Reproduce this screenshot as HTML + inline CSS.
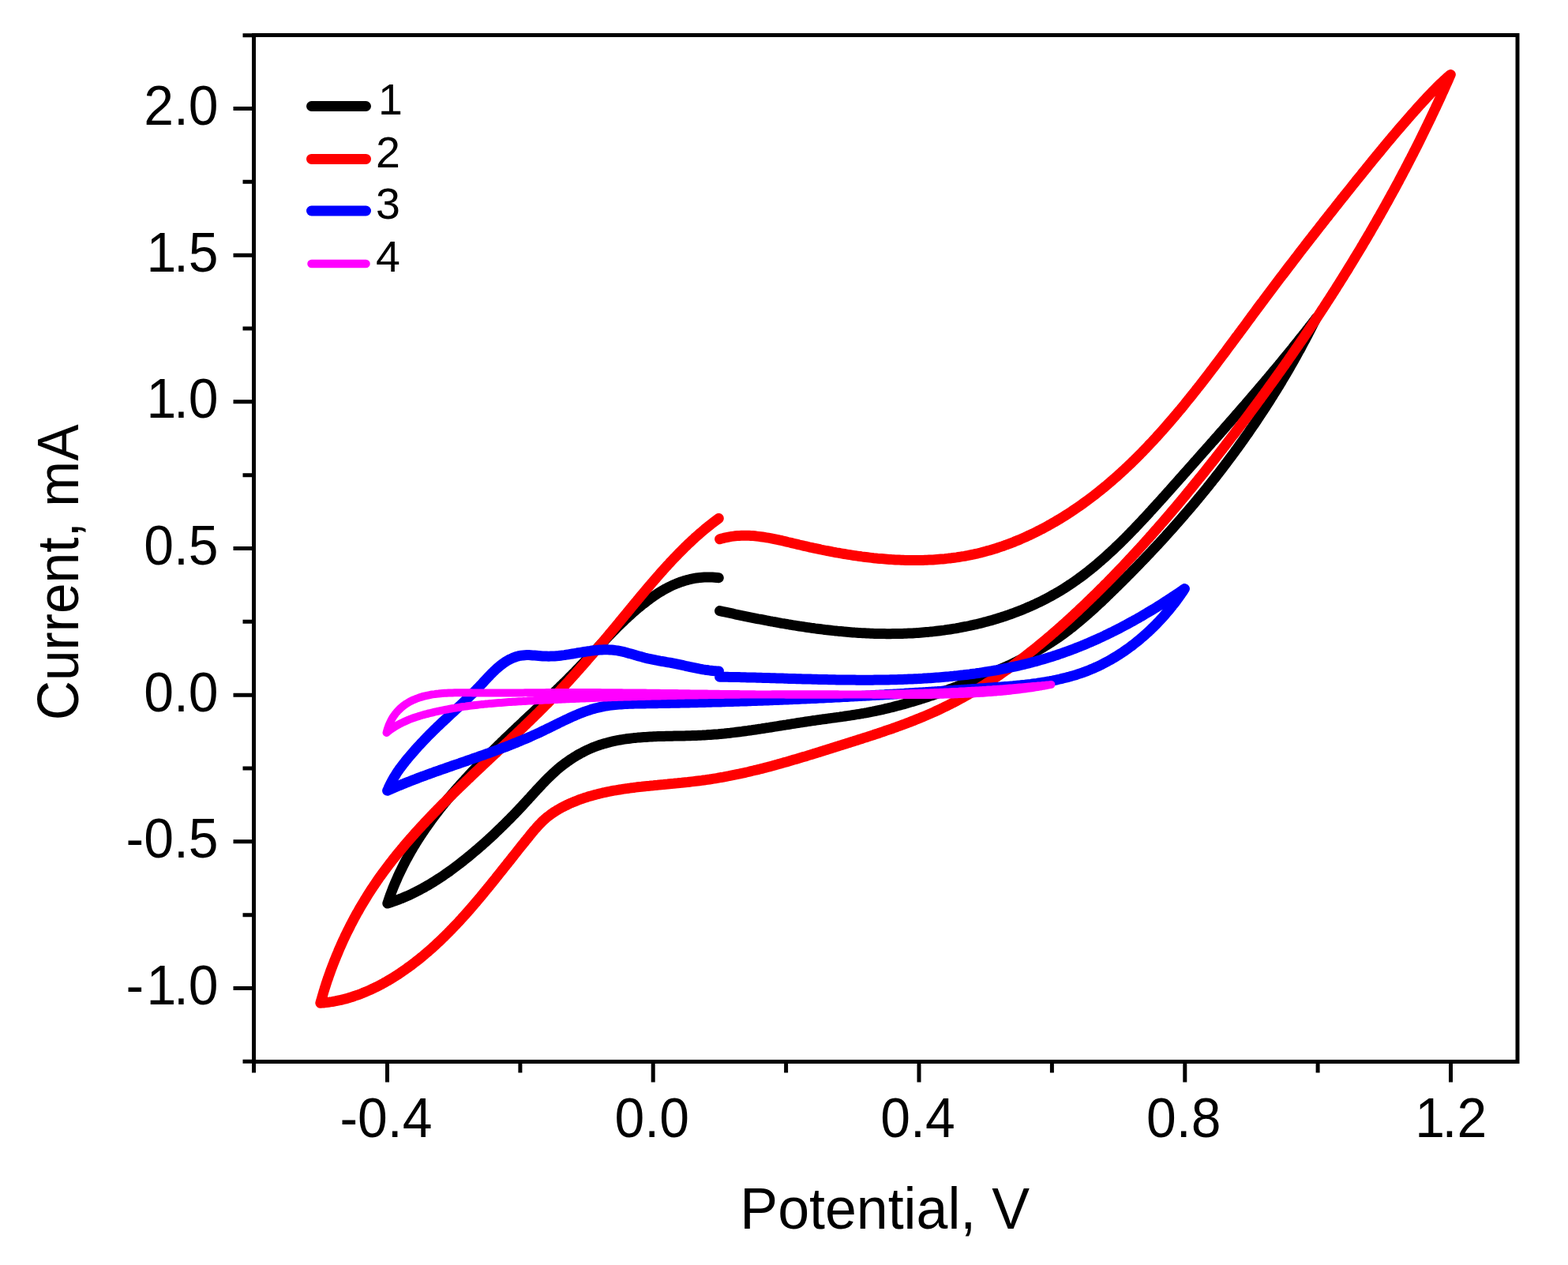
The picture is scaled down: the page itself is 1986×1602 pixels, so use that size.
<!DOCTYPE html>
<html><head><meta charset="utf-8"><title>Cyclic voltammograms</title>
<style>html,body{margin:0;padding:0;background:#fff;}body{width:1986px;height:1602px;overflow:hidden;}svg{display:block;}</style>
</head><body>
<svg width="1986" height="1602" viewBox="0 0 1986 1602">
<rect width="1986" height="1602" fill="#fff"/>
<path d="M911.5 773.6 L913.9 774.1 L916.3 774.7 L918.8 775.2 L921.2 775.7 L923.6 776.2 L926.0 776.7 L928.5 777.2 L930.9 777.8 L933.3 778.3 L935.8 778.8 L938.2 779.3 L940.7 779.8 L943.1 780.3 L945.5 780.8 L948.0 781.3 L950.4 781.8 L952.9 782.3 L955.4 782.8 L957.8 783.3 L960.3 783.8 L962.7 784.2 L965.2 784.7 L967.7 785.2 L970.1 785.7 L972.6 786.1 L975.1 786.6 L977.5 787.0 L980.0 787.5 L982.5 787.9 L985.0 788.4 L987.4 788.8 L989.9 789.3 L992.4 789.7 L994.9 790.1 L997.4 790.5 L999.8 791.0 L1002.3 791.4 L1004.8 791.8 L1007.3 792.2 L1009.8 792.6 L1012.3 793.0 L1014.8 793.3 L1017.3 793.7 L1019.8 794.1 L1022.3 794.5 L1024.8 794.8 L1027.3 795.2 L1029.8 795.5 L1032.3 795.9 L1034.8 796.2 L1037.3 796.5 L1039.8 796.8 L1042.3 797.1 L1044.8 797.5 L1047.3 797.7 L1049.8 798.0 L1052.3 798.3 L1054.8 798.6 L1057.4 798.9 L1059.9 799.1 L1062.4 799.4 L1064.9 799.6 L1067.4 799.8 L1069.9 800.1 L1072.4 800.3 L1074.9 800.5 L1077.5 800.7 L1080.0 800.9 L1082.5 801.1 L1085.0 801.2 L1087.5 801.4 L1090.1 801.6 L1092.6 801.7 L1095.1 801.8 L1097.6 802.0 L1100.1 802.1 L1102.7 802.2 L1105.2 802.3 L1107.7 802.4 L1110.2 802.4 L1112.7 802.5 L1115.3 802.6 L1117.8 802.6 L1120.3 802.6 L1122.8 802.7 L1125.3 802.7 L1127.9 802.7 L1130.4 802.6 L1132.9 802.6 L1135.4 802.6 L1137.9 802.5 L1140.5 802.5 L1143.0 802.4 L1145.5 802.3 L1148.0 802.2 L1150.5 802.1 L1153.1 802.0 L1155.6 801.9 L1158.1 801.7 L1160.6 801.6 L1163.1 801.4 L1165.6 801.2 L1168.2 801.0 L1170.7 800.8 L1173.2 800.6 L1175.7 800.4 L1178.2 800.1 L1180.7 799.9 L1183.2 799.6 L1185.7 799.3 L1188.2 799.0 L1190.7 798.7 L1193.2 798.4 L1195.7 798.1 L1198.2 797.7 L1200.7 797.3 L1203.2 797.0 L1205.7 796.6 L1208.2 796.2 L1210.6 795.8 L1213.1 795.3 L1215.6 794.9 L1218.1 794.4 L1220.5 793.9 L1223.0 793.5 L1225.5 793.0 L1227.9 792.5 L1230.4 791.9 L1232.8 791.4 L1235.3 790.8 L1237.7 790.3 L1240.1 789.7 L1242.6 789.1 L1245.0 788.5 L1247.4 787.8 L1249.8 787.2 L1252.2 786.5 L1254.6 785.9 L1257.0 785.2 L1259.4 784.5 L1261.8 783.8 L1264.2 783.0 L1266.6 782.3 L1269.0 781.5 L1271.3 780.8 L1273.7 780.0 L1276.1 779.2 L1278.4 778.3 L1280.8 777.5 L1283.1 776.7 L1285.4 775.8 L1287.8 774.9 L1290.1 774.0 L1292.4 773.1 L1294.7 772.2 L1297.0 771.2 L1299.3 770.3 L1301.6 769.3 L1303.9 768.3 L1306.1 767.3 L1308.4 766.3 L1310.6 765.3 L1312.9 764.2 L1315.1 763.2 L1317.4 762.1 L1319.6 761.0 L1321.8 759.9 L1324.0 758.7 L1326.2 757.6 L1328.4 756.4 L1330.6 755.2 L1332.7 754.0 L1334.9 752.8 L1337.1 751.6 L1339.2 750.3 L1341.3 749.1 L1343.5 747.8 L1345.6 746.5 L1347.7 745.2 L1349.8 743.9 L1351.9 742.5 L1353.9 741.1 L1356.0 739.8 L1358.1 738.4 L1360.1 737.0 L1362.2 735.5 L1364.2 734.1 L1366.2 732.6 L1368.2 731.2 L1370.2 729.7 L1372.2 728.2 L1374.2 726.7 L1376.2 725.1 L1378.2 723.6 L1380.1 722.0 L1382.1 720.5 L1384.0 718.9 L1386.0 717.3 L1387.9 715.7 L1389.8 714.1 L1391.7 712.4 L1393.6 710.8 L1395.5 709.1 L1397.4 707.5 L1399.3 705.8 L1401.2 704.1 L1403.0 702.4 L1404.9 700.7 L1406.8 699.0 L1408.6 697.3 L1410.5 695.6 L1412.3 693.8 L1414.1 692.1 L1415.9 690.3 L1417.8 688.6 L1419.6 686.8 L1421.4 685.0 L1423.2 683.3 L1425.0 681.5 L1426.8 679.7 L1428.5 677.9 L1430.3 676.1 L1432.1 674.2 L1433.9 672.4 L1435.6 670.6 L1437.4 668.8 L1439.1 666.9 L1440.9 665.1 L1442.6 663.3 L1444.4 661.4 L1446.1 659.6 L1447.8 657.7 L1449.6 655.9 L1451.3 654.0 L1453.0 652.2 L1454.7 650.3 L1456.4 648.4 L1458.1 646.6 L1459.8 644.7 L1461.5 642.8 L1463.2 641.0 L1464.9 639.1 L1466.6 637.2 L1468.3 635.4 L1470.0 633.5 L1471.7 631.6 L1473.4 629.7 L1475.1 627.9 L1476.7 626.0 L1478.4 624.1 L1480.1 622.2 L1481.8 620.4 L1483.4 618.5 L1485.1 616.6 L1486.8 614.7 L1488.4 612.9 L1490.1 611.0 L1491.8 609.1 L1493.4 607.2 L1495.1 605.3 L1496.8 603.5 L1498.4 601.6 L1500.1 599.7 L1501.8 597.8 L1503.4 596.0 L1505.1 594.1 L1506.7 592.2 L1508.4 590.4 L1510.1 588.5 L1511.7 586.6 L1513.4 584.7 L1515.1 582.9 L1516.7 581.0 L1518.4 579.1 L1520.0 577.3 L1521.7 575.4 L1523.3 573.5 L1525.0 571.6 L1526.7 569.8 L1528.3 567.9 L1530.0 566.0 L1531.6 564.2 L1533.3 562.3 L1534.9 560.4 L1536.6 558.6 L1538.3 556.7 L1539.9 554.8 L1541.6 553.0 L1543.2 551.1 L1544.9 549.2 L1546.5 547.3 L1548.2 545.5 L1549.8 543.6 L1551.5 541.7 L1553.1 539.8 L1554.7 538.0 L1556.4 536.1 L1558.0 534.2 L1559.7 532.3 L1561.3 530.5 L1563.0 528.6 L1564.6 526.7 L1566.2 524.8 L1567.9 523.0 L1569.5 521.1 L1571.2 519.2 L1572.8 517.3 L1574.4 515.4 L1576.1 513.5 L1577.7 511.7 L1579.3 509.8 L1581.0 507.9 L1582.6 506.0 L1584.2 504.1 L1585.9 502.2 L1587.5 500.3 L1589.1 498.4 L1590.7 496.5 L1592.4 494.6 L1594.0 492.7 L1595.6 490.8 L1597.2 488.9 L1598.8 487.0 L1600.5 485.1 L1602.1 483.2 L1603.7 481.3 L1605.3 479.4 L1606.9 477.5 L1608.5 475.5 L1610.1 473.6 L1611.7 471.7 L1613.3 469.8 L1614.9 467.9 L1616.6 465.9 L1618.2 464.0 L1619.8 462.1 L1621.4 460.1 L1623.0 458.2 L1624.5 456.3 L1626.1 454.3 L1627.7 452.4 L1629.3 450.5 L1630.9 448.5 L1632.5 446.6 L1634.1 444.6 L1635.7 442.7 L1637.3 440.7 L1638.8 438.7 L1640.4 436.8 L1642.0 434.8 L1643.6 432.9 L1645.1 430.9 L1646.7 428.9 L1648.3 426.9 L1649.9 425.0 L1651.4 423.0 L1653.0 421.0 L1654.6 419.0 L1656.1 417.0 L1657.7 415.0 L1659.2 413.0 L1660.8 411.0 L1662.4 409.0 L1663.9 407.0 L1665.5 405.0 L1667.0 403.0 L1667.0 403.0 L1665.9 405.3 L1664.8 407.5 L1663.6 409.7 L1662.5 412.0 L1661.4 414.2 L1660.2 416.5 L1659.1 418.7 L1657.9 420.9 L1656.8 423.1 L1655.6 425.4 L1654.4 427.6 L1653.3 429.8 L1652.1 432.0 L1650.9 434.2 L1649.7 436.4 L1648.5 438.6 L1647.4 440.9 L1646.2 443.1 L1644.9 445.2 L1643.7 447.4 L1642.5 449.6 L1641.3 451.8 L1640.1 454.0 L1638.9 456.2 L1637.6 458.4 L1636.4 460.5 L1635.1 462.7 L1633.9 464.9 L1632.6 467.1 L1631.4 469.2 L1630.1 471.4 L1628.9 473.5 L1627.6 475.7 L1626.3 477.8 L1625.0 480.0 L1623.7 482.1 L1622.5 484.3 L1621.2 486.4 L1619.9 488.6 L1618.6 490.7 L1617.3 492.8 L1615.9 495.0 L1614.6 497.1 L1613.3 499.2 L1612.0 501.3 L1610.6 503.4 L1609.3 505.5 L1608.0 507.7 L1606.6 509.8 L1605.3 511.9 L1603.9 514.0 L1602.6 516.1 L1601.2 518.2 L1599.8 520.3 L1598.5 522.3 L1597.1 524.4 L1595.7 526.5 L1594.3 528.6 L1592.9 530.7 L1591.6 532.8 L1590.2 534.8 L1588.8 536.9 L1587.3 539.0 L1585.9 541.0 L1584.5 543.1 L1583.1 545.1 L1581.7 547.2 L1580.3 549.2 L1578.8 551.3 L1577.4 553.3 L1575.9 555.4 L1574.5 557.4 L1573.0 559.5 L1571.6 561.5 L1570.1 563.5 L1568.7 565.5 L1567.2 567.6 L1565.7 569.6 L1564.3 571.6 L1562.8 573.6 L1561.3 575.6 L1559.8 577.6 L1558.3 579.7 L1556.8 581.7 L1555.3 583.7 L1553.8 585.7 L1552.3 587.6 L1550.8 589.6 L1549.3 591.6 L1547.8 593.6 L1546.2 595.6 L1544.7 597.6 L1543.2 599.6 L1541.6 601.5 L1540.1 603.5 L1538.6 605.5 L1537.0 607.4 L1535.5 609.4 L1533.9 611.4 L1532.3 613.3 L1530.8 615.3 L1529.2 617.2 L1527.6 619.2 L1526.1 621.1 L1524.5 623.0 L1522.9 625.0 L1521.3 626.9 L1519.7 628.9 L1518.1 630.8 L1516.5 632.7 L1514.9 634.6 L1513.3 636.6 L1511.7 638.5 L1510.1 640.4 L1508.5 642.3 L1506.8 644.2 L1505.2 646.1 L1503.6 648.0 L1501.9 649.9 L1500.3 651.8 L1498.7 653.7 L1497.0 655.6 L1495.4 657.5 L1493.7 659.4 L1492.1 661.3 L1490.4 663.1 L1488.8 665.0 L1487.1 666.9 L1485.4 668.8 L1483.8 670.6 L1482.1 672.5 L1480.4 674.4 L1478.7 676.2 L1477.0 678.1 L1475.4 680.0 L1473.7 681.8 L1472.0 683.7 L1470.3 685.5 L1468.6 687.4 L1466.9 689.2 L1465.2 691.0 L1463.5 692.9 L1461.7 694.7 L1460.0 696.5 L1458.3 698.4 L1456.6 700.2 L1454.9 702.0 L1453.1 703.8 L1451.4 705.7 L1449.7 707.5 L1447.9 709.3 L1446.2 711.1 L1444.5 712.9 L1442.7 714.7 L1441.0 716.5 L1439.2 718.3 L1437.5 720.1 L1435.7 721.9 L1433.9 723.7 L1432.2 725.5 L1430.4 727.3 L1428.6 729.0 L1426.9 730.8 L1425.1 732.6 L1423.3 734.4 L1421.6 736.1 L1419.8 737.9 L1418.0 739.7 L1416.2 741.5 L1414.4 743.2 L1412.6 745.0 L1410.8 746.7 L1409.0 748.5 L1407.2 750.2 L1405.4 752.0 L1403.6 753.7 L1401.8 755.5 L1400.0 757.2 L1398.2 758.9 L1396.4 760.7 L1394.6 762.4 L1392.7 764.1 L1390.9 765.8 L1389.1 767.5 L1387.2 769.2 L1385.4 770.9 L1383.5 772.6 L1381.7 774.3 L1379.8 775.9 L1377.9 777.6 L1376.0 779.2 L1374.1 780.9 L1372.3 782.5 L1370.4 784.1 L1368.4 785.8 L1366.5 787.4 L1364.6 788.9 L1362.7 790.5 L1360.7 792.1 L1358.8 793.7 L1356.8 795.2 L1354.9 796.7 L1352.9 798.2 L1350.9 799.7 L1348.9 801.2 L1346.9 802.7 L1344.9 804.2 L1342.9 805.6 L1340.8 807.1 L1338.8 808.5 L1336.7 809.9 L1334.6 811.3 L1332.6 812.6 L1330.5 814.0 L1328.4 815.3 L1326.3 816.7 L1324.1 818.0 L1322.0 819.3 L1319.9 820.6 L1317.7 821.8 L1315.6 823.1 L1313.4 824.3 L1311.2 825.6 L1309.0 826.8 L1306.8 828.0 L1304.6 829.2 L1302.4 830.4 L1300.2 831.5 L1298.0 832.7 L1295.8 833.8 L1293.5 835.0 L1291.3 836.1 L1289.0 837.2 L1286.8 838.3 L1284.5 839.4 L1282.2 840.5 L1280.0 841.6 L1277.7 842.6 L1275.4 843.7 L1273.1 844.7 L1270.8 845.8 L1268.5 846.8 L1266.2 847.8 L1263.9 848.8 L1261.6 849.8 L1259.3 850.8 L1257.0 851.8 L1254.7 852.8 L1252.3 853.7 L1250.0 854.7 L1247.7 855.7 L1245.3 856.6 L1243.0 857.6 L1240.7 858.5 L1238.3 859.4 L1236.0 860.3 L1233.6 861.3 L1231.3 862.2 L1229.0 863.1 L1226.6 864.0 L1224.3 864.9 L1221.9 865.8 L1219.6 866.7 L1217.2 867.5 L1214.9 868.4 L1212.5 869.3 L1210.2 870.2 L1207.9 871.0 L1205.5 871.9 L1203.2 872.7 L1200.8 873.6 L1198.5 874.4 L1196.1 875.3 L1193.8 876.1 L1191.4 876.9 L1189.1 877.7 L1186.7 878.6 L1184.3 879.4 L1182.0 880.2 L1179.6 880.9 L1177.3 881.7 L1174.9 882.5 L1172.5 883.3 L1170.2 884.0 L1167.8 884.8 L1165.4 885.5 L1163.1 886.3 L1160.7 887.0 L1158.3 887.7 L1155.9 888.4 L1153.6 889.1 L1151.2 889.8 L1148.8 890.5 L1146.4 891.2 L1144.0 891.9 L1141.6 892.5 L1139.2 893.2 L1136.8 893.8 L1134.4 894.4 L1132.0 895.1 L1129.6 895.7 L1127.2 896.3 L1124.7 896.9 L1122.3 897.4 L1119.9 898.0 L1117.5 898.6 L1115.0 899.1 L1112.6 899.6 L1110.1 900.1 L1107.7 900.7 L1105.2 901.2 L1102.8 901.6 L1100.3 902.1 L1097.9 902.6 L1095.4 903.0 L1092.9 903.5 L1090.4 903.9 L1088.0 904.3 L1085.5 904.7 L1083.0 905.1 L1080.5 905.5 L1078.0 905.9 L1075.5 906.3 L1073.0 906.6 L1070.5 907.0 L1068.0 907.4 L1065.5 907.7 L1063.0 908.1 L1060.5 908.4 L1058.0 908.8 L1055.5 909.1 L1053.0 909.4 L1050.5 909.8 L1048.0 910.1 L1045.5 910.5 L1043.0 910.8 L1040.5 911.1 L1038.0 911.5 L1035.5 911.8 L1033.1 912.2 L1030.6 912.5 L1028.1 912.9 L1025.6 913.3 L1023.1 913.6 L1020.7 914.0 L1018.2 914.4 L1015.7 914.8 L1013.3 915.1 L1010.8 915.5 L1008.3 915.9 L1005.9 916.3 L1003.4 916.7 L1001.0 917.1 L998.5 917.5 L996.1 917.9 L993.6 918.2 L991.2 918.6 L988.7 919.0 L986.3 919.4 L983.8 919.8 L981.4 920.2 L978.9 920.6 L976.5 921.0 L974.0 921.4 L971.6 921.7 L969.1 922.1 L966.7 922.5 L964.2 922.9 L961.8 923.2 L959.3 923.6 L956.9 924.0 L954.4 924.3 L952.0 924.7 L949.5 925.0 L947.0 925.4 L944.6 925.7 L942.1 926.0 L939.7 926.4 L937.2 926.7 L934.7 927.0 L932.3 927.3 L929.8 927.6 L927.3 927.9 L924.8 928.2 L922.4 928.4 L919.9 928.7 L917.4 929.0 L914.9 929.2 L912.4 929.4 L909.9 929.7 L907.4 929.9 L904.9 930.1 L902.4 930.3 L899.9 930.5 L897.3 930.6 L894.8 930.8 L892.3 930.9 L889.7 931.1 L887.2 931.2 L884.6 931.3 L882.1 931.4 L879.5 931.5 L877.0 931.6 L874.4 931.7 L871.9 931.7 L869.3 931.8 L866.7 931.9 L864.2 931.9 L861.6 932.0 L859.0 932.0 L856.4 932.1 L853.9 932.1 L851.3 932.2 L848.7 932.2 L846.1 932.3 L843.6 932.3 L841.0 932.4 L838.4 932.5 L835.9 932.6 L833.3 932.6 L830.7 932.7 L828.2 932.8 L825.6 933.0 L823.1 933.1 L820.5 933.2 L818.0 933.4 L815.5 933.5 L812.9 933.7 L810.4 933.9 L807.9 934.1 L805.4 934.4 L802.9 934.6 L800.4 934.9 L797.9 935.2 L795.4 935.5 L792.9 935.8 L790.5 936.2 L788.0 936.6 L785.6 937.0 L783.2 937.4 L780.7 937.9 L778.3 938.4 L775.9 938.9 L773.5 939.5 L771.1 940.1 L768.8 940.7 L766.4 941.4 L764.1 942.0 L761.7 942.8 L759.4 943.5 L757.1 944.3 L754.8 945.2 L752.6 946.0 L750.3 946.9 L748.1 947.9 L745.8 948.9 L743.6 949.9 L741.4 950.9 L739.3 952.0 L737.1 953.2 L734.9 954.3 L732.8 955.5 L730.7 956.7 L728.6 958.0 L726.5 959.3 L724.5 960.6 L722.4 961.9 L720.4 963.3 L718.4 964.7 L716.4 966.2 L714.4 967.6 L712.5 969.1 L710.5 970.7 L708.6 972.2 L706.7 973.8 L704.8 975.4 L703.0 977.1 L701.1 978.8 L699.3 980.5 L697.5 982.2 L695.7 983.9 L693.9 985.7 L692.2 987.4 L690.4 989.2 L688.7 991.0 L686.9 992.9 L685.2 994.7 L683.5 996.5 L681.8 998.4 L680.0 1000.2 L678.3 1002.1 L676.6 1004.0 L674.9 1005.8 L673.2 1007.7 L671.5 1009.6 L669.8 1011.4 L668.1 1013.3 L666.4 1015.1 L664.7 1017.0 L663.0 1018.8 L661.3 1020.7 L659.6 1022.5 L657.9 1024.3 L656.1 1026.2 L654.4 1028.0 L652.7 1029.8 L650.9 1031.6 L649.2 1033.4 L647.4 1035.2 L645.7 1037.0 L643.9 1038.7 L642.1 1040.5 L640.4 1042.3 L638.6 1044.0 L636.8 1045.8 L635.0 1047.5 L633.2 1049.3 L631.4 1051.0 L629.6 1052.7 L627.8 1054.5 L626.0 1056.2 L624.2 1057.9 L622.4 1059.6 L620.5 1061.3 L618.7 1063.0 L616.9 1064.6 L615.0 1066.3 L613.1 1068.0 L611.3 1069.6 L609.4 1071.3 L607.5 1072.9 L605.6 1074.6 L603.7 1076.2 L601.8 1077.8 L599.9 1079.4 L598.0 1081.0 L596.1 1082.6 L594.2 1084.2 L592.2 1085.8 L590.3 1087.4 L588.3 1088.9 L586.4 1090.5 L584.4 1092.0 L582.4 1093.6 L580.4 1095.1 L578.4 1096.6 L576.4 1098.1 L574.4 1099.6 L572.4 1101.1 L570.4 1102.6 L568.3 1104.1 L566.3 1105.5 L564.2 1106.9 L562.2 1108.4 L560.1 1109.8 L558.0 1111.2 L555.9 1112.5 L553.8 1113.9 L551.7 1115.2 L549.6 1116.6 L547.4 1117.9 L545.3 1119.2 L543.2 1120.5 L541.0 1121.7 L538.8 1123.0 L536.6 1124.2 L534.4 1125.4 L532.2 1126.6 L530.0 1127.7 L527.8 1128.9 L525.6 1130.0 L523.3 1131.1 L521.1 1132.2 L518.8 1133.3 L516.6 1134.3 L514.3 1135.3 L512.0 1136.3 L509.7 1137.3 L507.3 1138.2 L505.0 1139.1 L502.7 1140.0 L500.3 1140.9 L498.0 1141.7 L495.6 1142.5 L493.2 1143.3 L490.8 1144.1 L490.8 1144.1 L491.6 1141.7 L492.4 1139.2 L493.3 1136.8 L494.1 1134.4 L495.0 1132.0 L495.9 1129.7 L496.8 1127.3 L497.7 1124.9 L498.6 1122.6 L499.6 1120.2 L500.6 1117.9 L501.6 1115.6 L502.6 1113.3 L503.6 1111.0 L504.6 1108.7 L505.7 1106.4 L506.8 1104.1 L507.9 1101.9 L509.0 1099.6 L510.1 1097.4 L511.2 1095.1 L512.4 1092.9 L513.5 1090.7 L514.7 1088.5 L515.9 1086.3 L517.1 1084.1 L518.3 1081.9 L519.6 1079.7 L520.8 1077.5 L522.1 1075.4 L523.3 1073.2 L524.6 1071.1 L525.9 1069.0 L527.2 1066.8 L528.6 1064.7 L529.9 1062.6 L531.3 1060.5 L532.6 1058.4 L534.0 1056.3 L535.4 1054.2 L536.8 1052.2 L538.2 1050.1 L539.6 1048.0 L541.1 1046.0 L542.5 1044.0 L544.0 1041.9 L545.4 1039.9 L546.9 1037.9 L548.4 1035.9 L549.9 1033.9 L551.4 1031.9 L552.9 1029.9 L554.5 1027.9 L556.0 1025.9 L557.5 1023.9 L559.1 1022.0 L560.7 1020.0 L562.2 1018.0 L563.8 1016.1 L565.4 1014.2 L567.0 1012.2 L568.6 1010.3 L570.3 1008.4 L571.9 1006.4 L573.5 1004.5 L575.2 1002.6 L576.8 1000.7 L578.5 998.8 L580.1 996.9 L581.8 995.1 L583.5 993.2 L585.2 991.3 L586.9 989.4 L588.6 987.6 L590.3 985.7 L592.0 983.9 L593.7 982.0 L595.4 980.2 L597.2 978.3 L598.9 976.5 L600.6 974.7 L602.4 972.8 L604.1 971.0 L605.9 969.2 L607.6 967.4 L609.4 965.6 L611.2 963.8 L612.9 962.0 L614.7 960.2 L616.5 958.4 L618.3 956.6 L620.1 954.8 L621.9 953.0 L623.7 951.3 L625.5 949.5 L627.3 947.7 L629.1 946.0 L630.9 944.2 L632.7 942.4 L634.5 940.7 L636.3 938.9 L638.1 937.2 L639.9 935.4 L641.8 933.7 L643.6 931.9 L645.4 930.2 L647.2 928.5 L649.0 926.7 L650.9 925.0 L652.7 923.3 L654.5 921.5 L656.3 919.8 L658.2 918.1 L660.0 916.4 L661.8 914.7 L663.6 912.9 L665.5 911.2 L667.3 909.5 L669.1 907.8 L670.9 906.1 L672.8 904.4 L674.6 902.7 L676.4 901.0 L678.2 899.3 L680.0 897.6 L681.9 895.9 L683.7 894.1 L685.5 892.4 L687.3 890.7 L689.1 889.0 L690.9 887.3 L692.7 885.6 L694.5 883.9 L696.3 882.2 L698.1 880.4 L699.9 878.7 L701.7 877.0 L703.5 875.3 L705.3 873.5 L707.1 871.8 L708.9 870.0 L710.7 868.3 L712.5 866.5 L714.3 864.8 L716.1 863.0 L717.8 861.3 L719.6 859.5 L721.4 857.7 L723.2 855.9 L724.9 854.1 L726.7 852.3 L728.5 850.5 L730.2 848.7 L732.0 846.9 L733.8 845.1 L735.5 843.2 L737.3 841.4 L739.0 839.5 L740.8 837.7 L742.5 835.8 L744.3 834.0 L746.0 832.1 L747.7 830.2 L749.5 828.4 L751.2 826.5 L753.0 824.6 L754.7 822.8 L756.5 820.9 L758.2 819.0 L760.0 817.1 L761.7 815.3 L763.5 813.4 L765.3 811.6 L767.0 809.7 L768.8 807.8 L770.5 806.0 L772.3 804.2 L774.1 802.3 L775.9 800.5 L777.7 798.7 L779.5 796.8 L781.2 795.0 L783.0 793.2 L784.9 791.5 L786.7 789.7 L788.5 787.9 L790.3 786.2 L792.2 784.4 L794.0 782.7 L795.8 781.0 L797.7 779.3 L799.6 777.6 L801.4 775.9 L803.3 774.3 L805.2 772.6 L807.1 771.0 L809.0 769.4 L811.0 767.8 L812.9 766.2 L814.8 764.7 L816.8 763.2 L818.8 761.7 L820.7 760.2 L822.7 758.7 L824.7 757.3 L826.7 755.8 L828.8 754.4 L830.8 753.1 L832.9 751.7 L834.9 750.4 L837.0 749.2 L839.1 747.9 L841.2 746.7 L843.3 745.5 L845.5 744.4 L847.6 743.3 L849.8 742.2 L852.0 741.2 L854.2 740.2 L856.4 739.3 L858.7 738.4 L860.9 737.5 L863.2 736.7 L865.5 736.0 L867.8 735.2 L870.1 734.6 L872.5 734.0 L874.9 733.4 L877.3 732.9 L879.7 732.4 L882.1 732.0 L884.6 731.7 L887.0 731.4 L889.5 731.2 L892.0 731.0 L894.6 730.9 L897.1 730.9 L899.7 730.9 L902.3 731.0 L905.0 731.2 L907.6 731.4 L910.3 731.7" fill="none" stroke="#000000" stroke-width="13.0" stroke-linecap="round" stroke-linejoin="round"/>
<path d="M911.6 682.8 L914.1 682.1 L916.6 681.4 L919.0 680.8 L921.5 680.3 L924.0 679.8 L926.5 679.4 L928.9 679.1 L931.4 678.8 L933.9 678.6 L936.4 678.4 L938.8 678.3 L941.3 678.2 L943.8 678.2 L946.2 678.3 L948.7 678.3 L951.2 678.5 L953.6 678.6 L956.1 678.8 L958.5 679.1 L961.0 679.4 L963.5 679.7 L965.9 680.0 L968.4 680.4 L970.8 680.8 L973.3 681.2 L975.7 681.6 L978.2 682.1 L980.6 682.6 L983.1 683.1 L985.6 683.6 L988.0 684.2 L990.5 684.7 L992.9 685.3 L995.4 685.9 L997.8 686.5 L1000.3 687.0 L1002.7 687.6 L1005.2 688.2 L1007.6 688.8 L1010.1 689.4 L1012.6 690.0 L1015.0 690.5 L1017.5 691.1 L1019.9 691.7 L1022.4 692.2 L1024.8 692.8 L1027.3 693.3 L1029.8 693.9 L1032.2 694.4 L1034.7 694.9 L1037.2 695.4 L1039.6 696.0 L1042.1 696.5 L1044.5 697.0 L1047.0 697.5 L1049.5 697.9 L1051.9 698.4 L1054.4 698.9 L1056.9 699.3 L1059.3 699.8 L1061.8 700.2 L1064.3 700.7 L1066.8 701.1 L1069.2 701.5 L1071.7 701.9 L1074.2 702.3 L1076.7 702.7 L1079.1 703.1 L1081.6 703.5 L1084.1 703.8 L1086.6 704.2 L1089.1 704.5 L1091.5 704.9 L1094.0 705.2 L1096.5 705.5 L1099.0 705.8 L1101.5 706.1 L1104.0 706.4 L1106.5 706.7 L1109.0 706.9 L1111.5 707.2 L1114.0 707.4 L1116.4 707.6 L1118.9 707.8 L1121.4 708.0 L1123.9 708.2 L1126.5 708.4 L1129.0 708.6 L1131.5 708.7 L1134.0 708.9 L1136.5 709.0 L1139.0 709.1 L1141.5 709.2 L1144.0 709.3 L1146.5 709.4 L1149.0 709.4 L1151.5 709.5 L1154.0 709.5 L1156.6 709.5 L1159.1 709.5 L1161.6 709.5 L1164.1 709.5 L1166.6 709.4 L1169.1 709.4 L1171.6 709.3 L1174.1 709.2 L1176.6 709.1 L1179.1 709.0 L1181.6 708.9 L1184.1 708.7 L1186.6 708.5 L1189.1 708.3 L1191.6 708.1 L1194.1 707.9 L1196.6 707.7 L1199.1 707.4 L1201.6 707.1 L1204.1 706.9 L1206.6 706.5 L1209.1 706.2 L1211.6 705.9 L1214.0 705.5 L1216.5 705.1 L1219.0 704.7 L1221.5 704.3 L1223.9 703.8 L1226.4 703.4 L1228.9 702.9 L1231.3 702.4 L1233.8 701.9 L1236.2 701.3 L1238.7 700.8 L1241.1 700.2 L1243.5 699.6 L1246.0 698.9 L1248.4 698.3 L1250.8 697.6 L1253.3 696.9 L1255.7 696.2 L1258.1 695.5 L1260.5 694.8 L1262.9 694.0 L1265.3 693.2 L1267.7 692.4 L1270.1 691.6 L1272.4 690.7 L1274.8 689.9 L1277.2 689.0 L1279.6 688.1 L1281.9 687.2 L1284.3 686.3 L1286.6 685.3 L1288.9 684.4 L1291.3 683.4 L1293.6 682.4 L1295.9 681.4 L1298.2 680.4 L1300.5 679.3 L1302.8 678.2 L1305.1 677.2 L1307.4 676.1 L1309.7 675.0 L1312.0 673.9 L1314.2 672.7 L1316.5 671.6 L1318.7 670.4 L1321.0 669.3 L1323.2 668.1 L1325.4 666.9 L1327.6 665.7 L1329.8 664.4 L1332.0 663.2 L1334.2 661.9 L1336.4 660.7 L1338.5 659.4 L1340.7 658.1 L1342.9 656.8 L1345.0 655.5 L1347.1 654.2 L1349.2 652.9 L1351.4 651.5 L1353.5 650.2 L1355.6 648.8 L1357.7 647.4 L1359.7 646.0 L1361.8 644.6 L1363.9 643.2 L1365.9 641.8 L1368.0 640.4 L1370.0 639.0 L1372.0 637.5 L1374.0 636.0 L1376.0 634.6 L1378.0 633.1 L1380.0 631.6 L1382.0 630.1 L1384.0 628.6 L1386.0 627.1 L1387.9 625.6 L1389.9 624.0 L1391.8 622.5 L1393.8 620.9 L1395.7 619.4 L1397.6 617.8 L1399.6 616.2 L1401.5 614.6 L1403.4 613.0 L1405.3 611.4 L1407.1 609.8 L1409.0 608.2 L1410.9 606.5 L1412.8 604.9 L1414.6 603.3 L1416.5 601.6 L1418.3 599.9 L1420.2 598.3 L1422.0 596.6 L1423.8 594.9 L1425.6 593.2 L1427.5 591.5 L1429.3 589.8 L1431.1 588.1 L1432.9 586.3 L1434.6 584.6 L1436.4 582.9 L1438.2 581.1 L1440.0 579.3 L1441.7 577.6 L1443.5 575.8 L1445.3 574.0 L1447.0 572.3 L1448.7 570.5 L1450.5 568.7 L1452.2 566.9 L1453.9 565.1 L1455.6 563.2 L1457.4 561.4 L1459.1 559.6 L1460.8 557.8 L1462.5 555.9 L1464.2 554.1 L1465.9 552.2 L1467.5 550.4 L1469.2 548.5 L1470.9 546.6 L1472.6 544.8 L1474.2 542.9 L1475.9 541.0 L1477.5 539.1 L1479.2 537.2 L1480.8 535.3 L1482.5 533.4 L1484.1 531.5 L1485.7 529.6 L1487.4 527.7 L1489.0 525.8 L1490.6 523.9 L1492.2 521.9 L1493.8 520.0 L1495.5 518.1 L1497.1 516.1 L1498.7 514.2 L1500.3 512.2 L1501.8 510.3 L1503.4 508.3 L1505.0 506.3 L1506.6 504.4 L1508.2 502.4 L1509.8 500.4 L1511.3 498.5 L1512.9 496.5 L1514.5 494.5 L1516.0 492.5 L1517.6 490.5 L1519.2 488.6 L1520.7 486.6 L1522.3 484.6 L1523.8 482.6 L1525.4 480.6 L1526.9 478.6 L1528.5 476.6 L1530.0 474.6 L1531.5 472.6 L1533.1 470.5 L1534.6 468.5 L1536.2 466.5 L1537.7 464.5 L1539.2 462.5 L1540.7 460.5 L1542.3 458.4 L1543.8 456.4 L1545.3 454.4 L1546.8 452.4 L1548.3 450.4 L1549.9 448.3 L1551.4 446.3 L1552.9 444.3 L1554.4 442.2 L1555.9 440.2 L1557.4 438.2 L1558.9 436.2 L1560.4 434.1 L1561.9 432.1 L1563.4 430.1 L1564.9 428.0 L1566.4 426.0 L1568.0 424.0 L1569.5 421.9 L1571.0 419.9 L1572.5 417.9 L1574.0 415.8 L1575.5 413.8 L1577.0 411.8 L1578.5 409.8 L1580.0 407.7 L1581.5 405.7 L1583.0 403.7 L1584.5 401.6 L1585.9 399.6 L1587.4 397.6 L1588.9 395.6 L1590.4 393.6 L1591.9 391.5 L1593.4 389.5 L1594.9 387.5 L1596.4 385.5 L1597.9 383.5 L1599.5 381.5 L1601.0 379.4 L1602.5 377.4 L1604.0 375.4 L1605.5 373.4 L1607.0 371.4 L1608.5 369.4 L1610.0 367.4 L1611.5 365.4 L1613.0 363.4 L1614.5 361.4 L1616.0 359.4 L1617.5 357.4 L1619.0 355.4 L1620.5 353.4 L1622.0 351.4 L1623.5 349.5 L1625.1 347.5 L1626.6 345.5 L1628.1 343.5 L1629.6 341.5 L1631.1 339.5 L1632.6 337.5 L1634.1 335.6 L1635.7 333.6 L1637.2 331.6 L1638.7 329.6 L1640.2 327.6 L1641.7 325.7 L1643.3 323.7 L1644.8 321.7 L1646.3 319.7 L1647.8 317.7 L1649.3 315.8 L1650.9 313.8 L1652.4 311.8 L1653.9 309.9 L1655.4 307.9 L1657.0 305.9 L1658.5 303.9 L1660.0 302.0 L1661.6 300.0 L1663.1 298.0 L1664.6 296.1 L1666.2 294.1 L1667.7 292.1 L1669.2 290.2 L1670.8 288.2 L1672.3 286.2 L1673.9 284.3 L1675.4 282.3 L1676.9 280.4 L1678.5 278.4 L1680.0 276.4 L1681.6 274.5 L1683.1 272.5 L1684.7 270.5 L1686.2 268.6 L1687.8 266.6 L1689.3 264.7 L1690.9 262.7 L1692.4 260.7 L1694.0 258.8 L1695.5 256.8 L1697.1 254.9 L1698.6 252.9 L1700.2 250.9 L1701.8 249.0 L1703.3 247.0 L1704.9 245.1 L1706.4 243.1 L1708.0 241.2 L1709.6 239.2 L1711.2 237.2 L1712.7 235.3 L1714.3 233.3 L1715.9 231.4 L1717.4 229.4 L1719.0 227.4 L1720.6 225.5 L1722.2 223.5 L1723.8 221.6 L1725.3 219.6 L1726.9 217.6 L1728.5 215.7 L1730.1 213.7 L1731.7 211.8 L1733.3 209.8 L1734.9 207.8 L1736.5 205.9 L1738.0 203.9 L1739.6 202.0 L1741.2 200.0 L1742.8 198.1 L1744.4 196.1 L1746.0 194.2 L1747.7 192.2 L1749.3 190.3 L1750.9 188.3 L1752.5 186.4 L1754.1 184.4 L1755.7 182.5 L1757.3 180.5 L1758.9 178.6 L1760.6 176.7 L1762.2 174.7 L1763.8 172.8 L1765.4 170.9 L1767.1 169.0 L1768.7 167.0 L1770.3 165.1 L1772.0 163.2 L1773.6 161.3 L1775.3 159.4 L1776.9 157.5 L1778.6 155.6 L1780.2 153.7 L1781.9 151.8 L1783.5 149.9 L1785.2 148.0 L1786.8 146.1 L1788.5 144.2 L1790.2 142.3 L1791.8 140.5 L1793.5 138.6 L1795.2 136.7 L1796.8 134.9 L1798.5 133.0 L1800.2 131.2 L1801.9 129.3 L1803.6 127.5 L1805.3 125.7 L1807.0 123.8 L1808.7 122.0 L1810.4 120.2 L1812.1 118.4 L1813.8 116.6 L1815.6 114.8 L1817.3 113.1 L1819.1 111.3 L1820.8 109.5 L1822.6 107.8 L1824.4 106.1 L1826.2 104.4 L1828.0 102.7 L1829.8 101.0 L1831.7 99.3 L1833.5 97.7 L1835.4 96.0 L1837.3 94.4 L1837.3 94.4 L1836.3 96.7 L1835.3 99.0 L1834.3 101.3 L1833.3 103.5 L1832.3 105.8 L1831.2 108.1 L1830.2 110.4 L1829.2 112.7 L1828.2 115.0 L1827.1 117.2 L1826.1 119.5 L1825.1 121.8 L1824.0 124.1 L1823.0 126.3 L1821.9 128.6 L1820.9 130.9 L1819.8 133.1 L1818.8 135.4 L1817.7 137.7 L1816.6 139.9 L1815.6 142.2 L1814.5 144.4 L1813.4 146.7 L1812.4 149.0 L1811.3 151.2 L1810.2 153.5 L1809.1 155.7 L1808.0 158.0 L1806.9 160.2 L1805.8 162.5 L1804.7 164.7 L1803.6 167.0 L1802.5 169.2 L1801.4 171.4 L1800.3 173.7 L1799.2 175.9 L1798.1 178.2 L1797.0 180.4 L1795.9 182.6 L1794.7 184.9 L1793.6 187.1 L1792.5 189.3 L1791.3 191.6 L1790.2 193.8 L1789.1 196.0 L1787.9 198.2 L1786.8 200.5 L1785.6 202.7 L1784.5 204.9 L1783.3 207.1 L1782.2 209.3 L1781.0 211.6 L1779.9 213.8 L1778.7 216.0 L1777.5 218.2 L1776.4 220.4 L1775.2 222.6 L1774.0 224.8 L1772.8 227.0 L1771.7 229.3 L1770.5 231.5 L1769.3 233.7 L1768.1 235.9 L1766.9 238.1 L1765.7 240.3 L1764.5 242.5 L1763.3 244.7 L1762.1 246.8 L1760.9 249.0 L1759.7 251.2 L1758.5 253.4 L1757.3 255.6 L1756.0 257.8 L1754.8 260.0 L1753.6 262.2 L1752.4 264.4 L1751.2 266.5 L1749.9 268.7 L1748.7 270.9 L1747.5 273.1 L1746.2 275.2 L1745.0 277.4 L1743.7 279.6 L1742.5 281.8 L1741.2 283.9 L1740.0 286.1 L1738.7 288.3 L1737.5 290.4 L1736.2 292.6 L1735.0 294.8 L1733.7 296.9 L1732.4 299.1 L1731.2 301.2 L1729.9 303.4 L1728.6 305.6 L1727.3 307.7 L1726.1 309.9 L1724.8 312.0 L1723.5 314.2 L1722.2 316.3 L1720.9 318.5 L1719.6 320.6 L1718.3 322.8 L1717.0 324.9 L1715.7 327.0 L1714.4 329.2 L1713.1 331.3 L1711.8 333.5 L1710.5 335.6 L1709.2 337.7 L1707.9 339.9 L1706.6 342.0 L1705.3 344.1 L1703.9 346.3 L1702.6 348.4 L1701.3 350.5 L1700.0 352.6 L1698.6 354.8 L1697.3 356.9 L1696.0 359.0 L1694.6 361.1 L1693.3 363.2 L1692.0 365.4 L1690.6 367.5 L1689.3 369.6 L1687.9 371.7 L1686.6 373.8 L1685.2 375.9 L1683.9 378.0 L1682.5 380.1 L1681.1 382.2 L1679.8 384.3 L1678.4 386.4 L1677.1 388.5 L1675.7 390.6 L1674.3 392.7 L1672.9 394.8 L1671.6 396.9 L1670.2 399.0 L1668.8 401.1 L1667.4 403.2 L1666.0 405.3 L1664.7 407.4 L1663.3 409.5 L1661.9 411.5 L1660.5 413.6 L1659.1 415.7 L1657.7 417.8 L1656.3 419.9 L1654.9 422.0 L1653.5 424.0 L1652.1 426.1 L1650.7 428.2 L1649.3 430.2 L1647.9 432.3 L1646.4 434.4 L1645.0 436.5 L1643.6 438.5 L1642.2 440.6 L1640.8 442.6 L1639.3 444.7 L1637.9 446.8 L1636.5 448.8 L1635.1 450.9 L1633.6 452.9 L1632.2 455.0 L1630.8 457.1 L1629.3 459.1 L1627.9 461.2 L1626.5 463.2 L1625.0 465.3 L1623.6 467.3 L1622.1 469.3 L1620.7 471.4 L1619.2 473.4 L1617.8 475.5 L1616.3 477.5 L1614.9 479.5 L1613.4 481.6 L1611.9 483.6 L1610.5 485.7 L1609.0 487.7 L1607.5 489.7 L1606.1 491.7 L1604.6 493.8 L1603.1 495.8 L1601.7 497.8 L1600.2 499.8 L1598.7 501.9 L1597.2 503.9 L1595.8 505.9 L1594.3 507.9 L1592.8 509.9 L1591.3 512.0 L1589.8 514.0 L1588.3 516.0 L1586.8 518.0 L1585.3 520.0 L1583.8 522.0 L1582.4 524.0 L1580.9 526.0 L1579.4 528.0 L1577.9 530.0 L1576.4 532.0 L1574.8 534.0 L1573.3 536.0 L1571.8 538.0 L1570.3 540.0 L1568.8 542.0 L1567.3 544.0 L1565.8 546.0 L1564.3 548.0 L1562.8 550.0 L1561.2 551.9 L1559.7 553.9 L1558.2 555.9 L1556.7 557.9 L1555.1 559.9 L1553.6 561.9 L1552.1 563.8 L1550.6 565.8 L1549.0 567.8 L1547.5 569.8 L1546.0 571.7 L1544.4 573.7 L1542.9 575.7 L1541.3 577.6 L1539.8 579.6 L1538.3 581.6 L1536.7 583.5 L1535.2 585.5 L1533.6 587.4 L1532.1 589.4 L1530.5 591.4 L1529.0 593.3 L1527.4 595.3 L1525.9 597.2 L1524.3 599.2 L1522.7 601.1 L1521.2 603.1 L1519.6 605.0 L1518.0 606.9 L1516.5 608.9 L1514.9 610.8 L1513.3 612.8 L1511.7 614.7 L1510.2 616.6 L1508.6 618.6 L1507.0 620.5 L1505.4 622.4 L1503.8 624.4 L1502.3 626.3 L1500.7 628.2 L1499.1 630.1 L1497.5 632.0 L1495.9 634.0 L1494.3 635.9 L1492.7 637.8 L1491.1 639.7 L1489.5 641.6 L1487.9 643.5 L1486.3 645.4 L1484.6 647.3 L1483.0 649.2 L1481.4 651.1 L1479.8 653.0 L1478.2 654.9 L1476.5 656.8 L1474.9 658.7 L1473.3 660.6 L1471.6 662.5 L1470.0 664.3 L1468.4 666.2 L1466.7 668.1 L1465.1 670.0 L1463.4 671.8 L1461.8 673.7 L1460.1 675.6 L1458.5 677.5 L1456.8 679.3 L1455.2 681.2 L1453.5 683.0 L1451.8 684.9 L1450.2 686.7 L1448.5 688.6 L1446.8 690.5 L1445.2 692.3 L1443.5 694.1 L1441.8 696.0 L1440.1 697.8 L1438.4 699.7 L1436.7 701.5 L1435.0 703.3 L1433.3 705.2 L1431.6 707.0 L1429.9 708.8 L1428.2 710.6 L1426.5 712.5 L1424.8 714.3 L1423.1 716.1 L1421.4 717.9 L1419.7 719.7 L1417.9 721.5 L1416.2 723.3 L1414.5 725.1 L1412.7 726.9 L1411.0 728.7 L1409.3 730.5 L1407.5 732.3 L1405.8 734.1 L1404.0 735.9 L1402.3 737.7 L1400.5 739.4 L1398.7 741.2 L1397.0 743.0 L1395.2 744.8 L1393.4 746.5 L1391.7 748.3 L1389.9 750.0 L1388.1 751.8 L1386.3 753.6 L1384.5 755.3 L1382.7 757.1 L1380.9 758.8 L1379.1 760.6 L1377.3 762.3 L1375.5 764.0 L1373.7 765.8 L1371.9 767.5 L1370.1 769.2 L1368.2 770.9 L1366.4 772.7 L1364.6 774.4 L1362.7 776.1 L1360.9 777.8 L1359.1 779.5 L1357.2 781.2 L1355.4 782.9 L1353.5 784.6 L1351.6 786.3 L1349.8 788.0 L1347.9 789.7 L1346.0 791.3 L1344.2 793.0 L1342.3 794.7 L1340.4 796.3 L1338.5 798.0 L1336.6 799.6 L1334.7 801.3 L1332.8 802.9 L1330.9 804.6 L1329.0 806.2 L1327.1 807.8 L1325.2 809.4 L1323.3 811.0 L1321.3 812.6 L1319.4 814.2 L1317.5 815.8 L1315.5 817.4 L1313.6 819.0 L1311.6 820.6 L1309.7 822.2 L1307.7 823.7 L1305.8 825.3 L1303.8 826.8 L1301.8 828.4 L1299.9 829.9 L1297.9 831.5 L1295.9 833.0 L1293.9 834.5 L1291.9 836.0 L1289.9 837.5 L1287.9 839.0 L1285.9 840.5 L1283.9 842.0 L1281.8 843.5 L1279.8 844.9 L1277.8 846.4 L1275.8 847.8 L1273.7 849.3 L1271.7 850.7 L1269.6 852.1 L1267.6 853.6 L1265.5 855.0 L1263.4 856.4 L1261.4 857.8 L1259.3 859.1 L1257.2 860.5 L1255.1 861.9 L1253.0 863.3 L1250.9 864.6 L1248.8 865.9 L1246.7 867.3 L1244.6 868.6 L1242.5 869.9 L1240.4 871.2 L1238.2 872.5 L1236.1 873.8 L1234.0 875.1 L1231.8 876.3 L1229.7 877.6 L1227.5 878.8 L1225.4 880.1 L1223.2 881.3 L1221.0 882.5 L1218.8 883.7 L1216.7 884.9 L1214.5 886.1 L1212.3 887.3 L1210.1 888.5 L1207.9 889.6 L1205.6 890.8 L1203.4 891.9 L1201.2 893.0 L1199.0 894.1 L1196.7 895.2 L1194.5 896.3 L1192.2 897.4 L1190.0 898.5 L1187.7 899.5 L1185.5 900.5 L1183.2 901.6 L1180.9 902.6 L1178.6 903.6 L1176.3 904.6 L1174.0 905.6 L1171.7 906.6 L1169.4 907.6 L1167.1 908.5 L1164.8 909.5 L1162.5 910.4 L1160.2 911.3 L1157.9 912.3 L1155.5 913.2 L1153.2 914.1 L1150.9 915.0 L1148.5 915.9 L1146.2 916.8 L1143.8 917.6 L1141.5 918.5 L1139.1 919.4 L1136.7 920.2 L1134.4 921.1 L1132.0 921.9 L1129.6 922.8 L1127.3 923.6 L1124.9 924.4 L1122.5 925.2 L1120.2 926.0 L1117.8 926.9 L1115.4 927.7 L1113.0 928.5 L1110.6 929.3 L1108.2 930.0 L1105.9 930.8 L1103.5 931.6 L1101.1 932.4 L1098.7 933.2 L1096.3 933.9 L1093.9 934.7 L1091.5 935.5 L1089.1 936.2 L1086.7 937.0 L1084.3 937.8 L1081.9 938.5 L1079.5 939.3 L1077.1 940.0 L1074.8 940.8 L1072.4 941.5 L1070.0 942.3 L1067.6 943.0 L1065.2 943.8 L1062.8 944.5 L1060.4 945.3 L1058.0 946.0 L1055.6 946.8 L1053.3 947.5 L1050.9 948.3 L1048.5 949.0 L1046.1 949.8 L1043.7 950.5 L1041.3 951.3 L1039.0 952.0 L1036.6 952.8 L1034.2 953.5 L1031.8 954.2 L1029.4 955.0 L1027.0 955.7 L1024.7 956.4 L1022.3 957.2 L1019.9 957.9 L1017.5 958.6 L1015.1 959.3 L1012.7 960.0 L1010.4 960.7 L1008.0 961.4 L1005.6 962.1 L1003.2 962.8 L1000.8 963.5 L998.4 964.2 L996.0 964.9 L993.6 965.6 L991.2 966.3 L988.9 966.9 L986.5 967.6 L984.1 968.3 L981.7 968.9 L979.3 969.6 L976.9 970.2 L974.5 970.9 L972.1 971.5 L969.7 972.1 L967.2 972.7 L964.8 973.4 L962.4 974.0 L960.0 974.6 L957.6 975.2 L955.2 975.7 L952.7 976.3 L950.3 976.9 L947.9 977.5 L945.5 978.0 L943.0 978.6 L940.6 979.1 L938.2 979.6 L935.7 980.2 L933.3 980.7 L930.8 981.2 L928.4 981.7 L925.9 982.2 L923.5 982.7 L921.0 983.1 L918.5 983.6 L916.1 984.1 L913.6 984.5 L911.1 984.9 L908.6 985.4 L906.2 985.8 L903.7 986.2 L901.2 986.6 L898.7 987.0 L896.2 987.3 L893.7 987.7 L891.2 988.0 L888.7 988.4 L886.2 988.7 L883.6 989.0 L881.1 989.3 L878.6 989.6 L876.1 989.9 L873.5 990.2 L871.0 990.5 L868.4 990.7 L865.9 991.0 L863.4 991.3 L860.8 991.5 L858.3 991.8 L855.7 992.0 L853.2 992.3 L850.6 992.5 L848.1 992.7 L845.5 993.0 L843.0 993.2 L840.4 993.5 L837.9 993.7 L835.3 993.9 L832.8 994.2 L830.2 994.4 L827.7 994.7 L825.2 994.9 L822.6 995.2 L820.1 995.4 L817.5 995.7 L815.0 996.0 L812.5 996.3 L810.0 996.5 L807.4 996.8 L804.9 997.1 L802.4 997.5 L799.9 997.8 L797.4 998.1 L794.9 998.5 L792.4 998.8 L789.9 999.2 L787.4 999.6 L784.9 1000.0 L782.5 1000.4 L780.0 1000.8 L777.5 1001.2 L775.1 1001.7 L772.6 1002.2 L770.2 1002.6 L767.8 1003.1 L765.3 1003.7 L762.9 1004.2 L760.5 1004.8 L758.1 1005.4 L755.7 1006.0 L753.3 1006.6 L751.0 1007.2 L748.6 1007.9 L746.2 1008.6 L743.9 1009.3 L741.6 1010.1 L739.2 1010.8 L736.9 1011.6 L734.6 1012.4 L732.3 1013.3 L730.1 1014.2 L727.8 1015.1 L725.5 1016.0 L723.3 1016.9 L721.1 1017.9 L718.9 1019.0 L716.7 1020.0 L714.5 1021.1 L712.3 1022.2 L710.2 1023.4 L708.0 1024.6 L705.9 1025.8 L703.9 1027.1 L701.8 1028.4 L699.8 1029.7 L697.8 1031.1 L695.9 1032.6 L693.9 1034.1 L692.1 1035.6 L690.2 1037.2 L688.4 1038.8 L686.6 1040.5 L684.9 1042.3 L683.2 1044.0 L681.5 1045.8 L679.8 1047.7 L678.2 1049.6 L676.5 1051.4 L674.9 1053.4 L673.3 1055.3 L671.7 1057.2 L670.2 1059.2 L668.6 1061.1 L667.0 1063.1 L665.4 1065.0 L663.9 1067.0 L662.3 1068.9 L660.7 1070.9 L659.2 1072.8 L657.6 1074.8 L656.0 1076.8 L654.5 1078.7 L652.9 1080.7 L651.3 1082.7 L649.8 1084.6 L648.2 1086.6 L646.7 1088.6 L645.1 1090.6 L643.5 1092.5 L642.0 1094.5 L640.4 1096.5 L638.8 1098.4 L637.3 1100.4 L635.7 1102.4 L634.2 1104.3 L632.6 1106.3 L631.0 1108.3 L629.4 1110.2 L627.9 1112.2 L626.3 1114.2 L624.7 1116.1 L623.1 1118.1 L621.6 1120.0 L620.0 1122.0 L618.4 1123.9 L616.8 1125.9 L615.2 1127.8 L613.6 1129.8 L612.0 1131.7 L610.4 1133.6 L608.8 1135.6 L607.2 1137.5 L605.6 1139.4 L604.0 1141.3 L602.4 1143.2 L600.7 1145.1 L599.1 1147.0 L597.5 1148.9 L595.8 1150.8 L594.2 1152.7 L592.5 1154.6 L590.9 1156.4 L589.2 1158.3 L587.5 1160.2 L585.8 1162.0 L584.2 1163.9 L582.5 1165.7 L580.8 1167.6 L579.1 1169.4 L577.4 1171.2 L575.6 1173.0 L573.9 1174.8 L572.2 1176.6 L570.4 1178.4 L568.7 1180.2 L566.9 1182.0 L565.2 1183.7 L563.4 1185.5 L561.6 1187.2 L559.8 1189.0 L558.0 1190.7 L556.2 1192.4 L554.4 1194.1 L552.6 1195.8 L550.8 1197.5 L548.9 1199.2 L547.1 1200.8 L545.2 1202.5 L543.3 1204.1 L541.4 1205.8 L539.5 1207.4 L537.6 1209.0 L535.7 1210.6 L533.8 1212.2 L531.8 1213.8 L529.9 1215.3 L527.9 1216.9 L526.0 1218.4 L524.0 1219.9 L522.0 1221.5 L520.0 1223.0 L518.0 1224.4 L515.9 1225.9 L513.9 1227.4 L511.8 1228.8 L509.7 1230.3 L507.7 1231.7 L505.6 1233.1 L503.5 1234.5 L501.3 1235.8 L499.2 1237.2 L497.1 1238.5 L494.9 1239.8 L492.7 1241.1 L490.6 1242.4 L488.4 1243.6 L486.2 1244.9 L484.0 1246.1 L481.8 1247.2 L479.5 1248.4 L477.3 1249.6 L475.0 1250.7 L472.8 1251.8 L470.5 1252.8 L468.2 1253.9 L465.9 1254.9 L463.6 1255.9 L461.3 1256.8 L459.0 1257.8 L456.7 1258.7 L454.3 1259.6 L452.0 1260.4 L449.6 1261.2 L447.3 1262.0 L444.9 1262.8 L442.5 1263.5 L440.1 1264.2 L437.7 1264.9 L435.3 1265.5 L432.9 1266.1 L430.5 1266.7 L428.0 1267.2 L425.6 1267.7 L423.2 1268.1 L420.7 1268.6 L418.2 1268.9 L415.8 1269.3 L413.3 1269.6 L410.8 1269.9 L408.3 1270.1 L405.8 1270.3 L405.8 1270.3 L406.5 1267.9 L407.2 1265.4 L407.9 1263.0 L408.6 1260.6 L409.3 1258.2 L410.0 1255.7 L410.8 1253.3 L411.5 1250.9 L412.3 1248.5 L413.0 1246.1 L413.8 1243.7 L414.6 1241.3 L415.5 1238.9 L416.3 1236.5 L417.1 1234.2 L418.0 1231.8 L418.8 1229.4 L419.7 1227.0 L420.6 1224.7 L421.5 1222.3 L422.4 1220.0 L423.3 1217.6 L424.2 1215.3 L425.2 1212.9 L426.1 1210.6 L427.1 1208.3 L428.1 1206.0 L429.0 1203.6 L430.0 1201.3 L431.1 1199.0 L432.1 1196.7 L433.1 1194.4 L434.1 1192.1 L435.2 1189.8 L436.3 1187.5 L437.3 1185.3 L438.4 1183.0 L439.5 1180.7 L440.6 1178.5 L441.8 1176.2 L442.9 1174.0 L444.0 1171.7 L445.2 1169.5 L446.3 1167.3 L447.5 1165.1 L448.7 1162.8 L449.9 1160.6 L451.1 1158.4 L452.3 1156.2 L453.6 1154.1 L454.8 1151.9 L456.0 1149.7 L457.3 1147.5 L458.6 1145.4 L459.9 1143.2 L461.2 1141.1 L462.5 1138.9 L463.8 1136.8 L465.1 1134.7 L466.4 1132.5 L467.8 1130.4 L469.1 1128.3 L470.5 1126.2 L471.9 1124.1 L473.3 1122.0 L474.7 1120.0 L476.1 1117.9 L477.5 1115.8 L478.9 1113.8 L480.3 1111.7 L481.8 1109.7 L483.2 1107.7 L484.7 1105.6 L486.2 1103.6 L487.7 1101.6 L489.2 1099.6 L490.7 1097.6 L492.2 1095.6 L493.7 1093.6 L495.2 1091.7 L496.8 1089.7 L498.3 1087.7 L499.9 1085.8 L501.4 1083.8 L503.0 1081.9 L504.6 1079.9 L506.2 1078.0 L507.8 1076.1 L509.4 1074.1 L511.0 1072.2 L512.6 1070.3 L514.2 1068.4 L515.8 1066.5 L517.5 1064.6 L519.1 1062.7 L520.8 1060.8 L522.4 1059.0 L524.1 1057.1 L525.8 1055.2 L527.4 1053.4 L529.1 1051.5 L530.8 1049.6 L532.5 1047.8 L534.2 1045.9 L535.9 1044.1 L537.6 1042.3 L539.3 1040.4 L541.0 1038.6 L542.8 1036.8 L544.5 1035.0 L546.2 1033.1 L548.0 1031.3 L549.7 1029.5 L551.5 1027.7 L553.2 1025.9 L555.0 1024.1 L556.8 1022.3 L558.5 1020.5 L560.3 1018.7 L562.1 1016.9 L563.9 1015.2 L565.6 1013.4 L567.4 1011.6 L569.2 1009.8 L571.0 1008.1 L572.8 1006.3 L574.6 1004.5 L576.4 1002.8 L578.2 1001.0 L580.0 999.3 L581.8 997.5 L583.6 995.8 L585.5 994.0 L587.3 992.3 L589.1 990.5 L590.9 988.8 L592.7 987.0 L594.6 985.3 L596.4 983.5 L598.2 981.8 L600.0 980.1 L601.9 978.3 L603.7 976.6 L605.5 974.9 L607.4 973.2 L609.2 971.4 L611.0 969.7 L612.9 968.0 L614.7 966.2 L616.5 964.5 L618.4 962.8 L620.2 961.1 L622.1 959.3 L623.9 957.6 L625.7 955.9 L627.6 954.2 L629.4 952.5 L631.2 950.7 L633.1 949.0 L634.9 947.3 L636.7 945.6 L638.6 943.9 L640.4 942.1 L642.2 940.4 L644.0 938.7 L645.9 937.0 L647.7 935.2 L649.5 933.5 L651.3 931.8 L653.2 930.1 L655.0 928.3 L656.8 926.6 L658.6 924.9 L660.4 923.1 L662.2 921.4 L664.0 919.7 L665.8 917.9 L667.6 916.2 L669.4 914.4 L671.2 912.7 L673.0 911.0 L674.8 909.2 L676.6 907.5 L678.4 905.7 L680.2 903.9 L682.0 902.2 L683.8 900.4 L685.5 898.7 L687.3 896.9 L689.1 895.1 L690.8 893.3 L692.6 891.6 L694.4 889.8 L696.1 888.0 L697.9 886.2 L699.6 884.4 L701.4 882.6 L703.1 880.8 L704.8 879.0 L706.6 877.2 L708.3 875.4 L710.0 873.6 L711.7 871.7 L713.4 869.9 L715.2 868.1 L716.9 866.2 L718.6 864.4 L720.3 862.6 L721.9 860.7 L723.6 858.9 L725.3 857.0 L727.0 855.1 L728.7 853.3 L730.3 851.4 L732.0 849.5 L733.7 847.6 L735.3 845.8 L737.0 843.9 L738.7 842.0 L740.3 840.1 L742.0 838.2 L743.6 836.3 L745.2 834.4 L746.9 832.5 L748.5 830.6 L750.2 828.7 L751.8 826.8 L753.4 824.9 L755.1 823.0 L756.7 821.1 L758.3 819.1 L759.9 817.2 L761.5 815.3 L763.2 813.4 L764.8 811.5 L766.4 809.5 L768.0 807.6 L769.6 805.7 L771.2 803.7 L772.8 801.8 L774.5 799.9 L776.1 797.9 L777.7 796.0 L779.3 794.1 L780.9 792.1 L782.5 790.2 L784.1 788.2 L785.7 786.3 L787.3 784.4 L788.9 782.4 L790.5 780.5 L792.1 778.5 L793.7 776.6 L795.3 774.6 L796.9 772.7 L798.5 770.8 L800.1 768.8 L801.7 766.9 L803.3 764.9 L804.9 763.0 L806.5 761.1 L808.1 759.1 L809.7 757.2 L811.3 755.3 L813.0 753.3 L814.6 751.4 L816.2 749.5 L817.8 747.5 L819.4 745.6 L821.1 743.7 L822.7 741.8 L824.3 739.9 L825.9 738.0 L827.6 736.1 L829.2 734.2 L830.9 732.3 L832.5 730.4 L834.2 728.5 L835.8 726.6 L837.5 724.7 L839.2 722.8 L840.8 721.0 L842.5 719.1 L844.2 717.3 L845.9 715.4 L847.6 713.6 L849.3 711.7 L851.0 709.9 L852.7 708.1 L854.4 706.3 L856.2 704.5 L857.9 702.7 L859.6 700.9 L861.4 699.1 L863.2 697.3 L864.9 695.6 L866.7 693.8 L868.5 692.1 L870.3 690.3 L872.1 688.6 L873.9 686.9 L875.7 685.2 L877.5 683.5 L879.4 681.8 L881.2 680.1 L883.1 678.5 L885.0 676.8 L886.8 675.2 L888.7 673.6 L890.6 672.0 L892.5 670.3 L894.5 668.8 L896.4 667.2 L898.4 665.6 L900.3 664.1 L902.3 662.5 L904.3 661.0 L906.3 659.5 L908.3 658.0 L910.3 656.5" fill="none" stroke="#ff0000" stroke-width="13.0" stroke-linecap="round" stroke-linejoin="round"/>
<path d="M911.5 857.2 L914.0 857.2 L916.4 857.3 L918.9 857.3 L921.4 857.3 L923.9 857.4 L926.4 857.4 L928.8 857.5 L931.3 857.5 L933.8 857.6 L936.3 857.6 L938.8 857.7 L941.3 857.7 L943.8 857.8 L946.3 857.9 L948.8 857.9 L951.3 858.0 L953.8 858.1 L956.3 858.1 L958.8 858.2 L961.3 858.3 L963.8 858.3 L966.3 858.4 L968.8 858.5 L971.3 858.5 L973.8 858.6 L976.3 858.7 L978.8 858.8 L981.3 858.8 L983.8 858.9 L986.4 859.0 L988.9 859.1 L991.4 859.1 L993.9 859.2 L996.4 859.3 L999.0 859.4 L1001.5 859.4 L1004.0 859.5 L1006.5 859.6 L1009.0 859.7 L1011.6 859.7 L1014.1 859.8 L1016.6 859.9 L1019.1 859.9 L1021.7 860.0 L1024.2 860.1 L1026.7 860.1 L1029.3 860.2 L1031.8 860.3 L1034.3 860.3 L1036.9 860.4 L1039.4 860.5 L1041.9 860.5 L1044.5 860.6 L1047.0 860.6 L1049.5 860.7 L1052.1 860.7 L1054.6 860.8 L1057.1 860.8 L1059.7 860.9 L1062.2 860.9 L1064.7 860.9 L1067.3 861.0 L1069.8 861.0 L1072.3 861.0 L1074.9 861.1 L1077.4 861.1 L1079.9 861.1 L1082.5 861.1 L1085.0 861.2 L1087.5 861.2 L1090.1 861.2 L1092.6 861.2 L1095.1 861.2 L1097.7 861.2 L1100.2 861.2 L1102.7 861.2 L1105.3 861.2 L1107.8 861.1 L1110.3 861.1 L1112.9 861.1 L1115.4 861.1 L1117.9 861.0 L1120.5 861.0 L1123.0 860.9 L1125.5 860.9 L1128.1 860.8 L1130.6 860.8 L1133.1 860.7 L1135.6 860.7 L1138.2 860.6 L1140.7 860.5 L1143.2 860.4 L1145.7 860.3 L1148.3 860.2 L1150.8 860.1 L1153.3 860.0 L1155.8 859.9 L1158.4 859.8 L1160.9 859.7 L1163.4 859.6 L1165.9 859.4 L1168.4 859.3 L1170.9 859.1 L1173.5 859.0 L1176.0 858.8 L1178.5 858.7 L1181.0 858.5 L1183.5 858.3 L1186.0 858.1 L1188.5 857.9 L1191.0 857.7 L1193.5 857.5 L1196.0 857.3 L1198.5 857.1 L1201.0 856.9 L1203.5 856.6 L1206.0 856.4 L1208.5 856.1 L1211.0 855.9 L1213.5 855.6 L1216.0 855.3 L1218.5 855.1 L1221.0 854.8 L1223.4 854.5 L1225.9 854.2 L1228.4 853.9 L1230.9 853.5 L1233.4 853.2 L1235.8 852.9 L1238.3 852.5 L1240.8 852.2 L1243.2 851.8 L1245.7 851.4 L1248.2 851.0 L1250.6 850.6 L1253.1 850.2 L1255.6 849.8 L1258.0 849.4 L1260.5 849.0 L1262.9 848.6 L1265.4 848.1 L1267.8 847.6 L1270.3 847.2 L1272.7 846.7 L1275.2 846.2 L1277.6 845.7 L1280.0 845.2 L1282.5 844.7 L1284.9 844.2 L1287.3 843.6 L1289.7 843.1 L1292.2 842.5 L1294.6 841.9 L1297.0 841.4 L1299.4 840.8 L1301.8 840.2 L1304.2 839.6 L1306.7 838.9 L1309.1 838.3 L1311.5 837.7 L1313.9 837.0 L1316.3 836.3 L1318.6 835.6 L1321.0 834.9 L1323.4 834.2 L1325.8 833.5 L1328.2 832.8 L1330.6 832.1 L1332.9 831.3 L1335.3 830.5 L1337.7 829.8 L1340.0 829.0 L1342.4 828.2 L1344.8 827.4 L1347.1 826.5 L1349.5 825.7 L1351.8 824.8 L1354.2 824.0 L1356.5 823.1 L1358.8 822.2 L1361.2 821.3 L1363.5 820.4 L1365.8 819.5 L1368.2 818.6 L1370.5 817.6 L1372.8 816.7 L1375.1 815.7 L1377.4 814.7 L1379.7 813.8 L1382.0 812.8 L1384.3 811.7 L1386.6 810.7 L1388.9 809.7 L1391.2 808.7 L1393.5 807.6 L1395.8 806.6 L1398.1 805.5 L1400.3 804.4 L1402.6 803.3 L1404.9 802.2 L1407.1 801.1 L1409.4 800.0 L1411.6 798.9 L1413.9 797.7 L1416.1 796.6 L1418.4 795.4 L1420.6 794.3 L1422.9 793.1 L1425.1 791.9 L1427.3 790.7 L1429.5 789.5 L1431.7 788.3 L1434.0 787.1 L1436.2 785.8 L1438.4 784.6 L1440.6 783.4 L1442.8 782.1 L1445.0 780.9 L1447.2 779.6 L1449.3 778.3 L1451.5 777.0 L1453.7 775.7 L1455.9 774.4 L1458.0 773.1 L1460.2 771.8 L1462.4 770.5 L1464.5 769.2 L1466.7 767.8 L1468.8 766.5 L1470.9 765.2 L1473.1 763.8 L1475.2 762.4 L1477.3 761.1 L1479.4 759.7 L1481.6 758.3 L1483.7 756.9 L1485.8 755.5 L1487.9 754.1 L1490.0 752.7 L1492.1 751.3 L1494.2 749.9 L1496.2 748.5 L1498.3 747.0 L1500.4 745.6 L1500.4 745.6 L1499.1 747.7 L1497.7 749.7 L1496.3 751.7 L1494.9 753.8 L1493.5 755.8 L1492.0 757.8 L1490.6 759.8 L1489.1 761.8 L1487.6 763.8 L1486.0 765.7 L1484.5 767.7 L1482.9 769.6 L1481.4 771.6 L1479.8 773.5 L1478.1 775.4 L1476.5 777.3 L1474.9 779.2 L1473.2 781.1 L1471.5 783.0 L1469.8 784.8 L1468.1 786.6 L1466.3 788.5 L1464.6 790.3 L1462.8 792.1 L1461.0 793.9 L1459.2 795.6 L1457.4 797.4 L1455.6 799.1 L1453.7 800.8 L1451.8 802.5 L1450.0 804.2 L1448.1 805.9 L1446.1 807.5 L1444.2 809.2 L1442.3 810.8 L1440.3 812.4 L1438.3 814.0 L1436.4 815.5 L1434.4 817.1 L1432.3 818.6 L1430.3 820.1 L1428.3 821.6 L1426.2 823.0 L1424.2 824.5 L1422.1 825.9 L1420.0 827.3 L1417.9 828.6 L1415.8 830.0 L1413.6 831.3 L1411.5 832.6 L1409.3 833.9 L1407.2 835.2 L1405.0 836.4 L1402.8 837.6 L1400.6 838.8 L1398.4 839.9 L1396.2 841.1 L1394.0 842.2 L1391.7 843.3 L1389.5 844.3 L1387.2 845.3 L1384.9 846.4 L1382.7 847.3 L1380.4 848.3 L1378.1 849.2 L1375.8 850.1 L1373.4 851.0 L1371.1 851.8 L1368.8 852.6 L1366.4 853.4 L1364.1 854.2 L1361.7 854.9 L1359.4 855.6 L1357.0 856.3 L1354.6 857.0 L1352.2 857.6 L1349.8 858.2 L1347.4 858.8 L1345.0 859.4 L1342.6 860.0 L1340.2 860.5 L1337.7 861.1 L1335.3 861.6 L1332.9 862.1 L1330.4 862.5 L1328.0 863.0 L1325.5 863.4 L1323.0 863.8 L1320.6 864.2 L1318.1 864.6 L1315.6 865.0 L1313.2 865.4 L1310.7 865.7 L1308.2 866.0 L1305.7 866.4 L1303.2 866.7 L1300.7 867.0 L1298.2 867.3 L1295.7 867.5 L1293.2 867.8 L1290.7 868.1 L1288.2 868.3 L1285.7 868.5 L1283.2 868.8 L1280.6 869.0 L1278.1 869.2 L1275.6 869.4 L1273.1 869.6 L1270.6 869.8 L1268.0 870.0 L1265.5 870.2 L1263.0 870.4 L1260.5 870.6 L1258.0 870.8 L1255.4 871.0 L1252.9 871.1 L1250.4 871.3 L1247.9 871.5 L1245.4 871.7 L1242.8 871.8 L1240.3 872.0 L1237.8 872.2 L1235.3 872.4 L1232.8 872.5 L1230.3 872.7 L1227.7 872.9 L1225.2 873.1 L1222.7 873.2 L1220.2 873.4 L1217.7 873.6 L1215.2 873.7 L1212.7 873.9 L1210.2 874.1 L1207.7 874.3 L1205.2 874.4 L1202.6 874.6 L1200.1 874.8 L1197.6 874.9 L1195.1 875.1 L1192.6 875.3 L1190.1 875.4 L1187.6 875.6 L1185.1 875.7 L1182.6 875.9 L1180.1 876.1 L1177.6 876.2 L1175.1 876.4 L1172.6 876.6 L1170.1 876.7 L1167.6 876.9 L1165.1 877.0 L1162.6 877.2 L1160.1 877.3 L1157.6 877.5 L1155.1 877.7 L1152.6 877.8 L1150.1 878.0 L1147.6 878.1 L1145.1 878.3 L1142.6 878.4 L1140.1 878.6 L1137.6 878.7 L1135.1 878.9 L1132.7 879.0 L1130.2 879.2 L1127.7 879.3 L1125.2 879.5 L1122.7 879.6 L1120.2 879.8 L1117.7 879.9 L1115.2 880.0 L1112.7 880.2 L1110.2 880.3 L1107.7 880.5 L1105.2 880.6 L1102.7 880.8 L1100.2 880.9 L1097.7 881.0 L1095.3 881.2 L1092.8 881.3 L1090.3 881.4 L1087.8 881.6 L1085.3 881.7 L1082.8 881.8 L1080.3 882.0 L1077.8 882.1 L1075.3 882.2 L1072.8 882.4 L1070.3 882.5 L1067.8 882.6 L1065.3 882.8 L1062.9 882.9 L1060.4 883.0 L1057.9 883.1 L1055.4 883.3 L1052.9 883.4 L1050.4 883.5 L1047.9 883.6 L1045.4 883.8 L1042.9 883.9 L1040.4 884.0 L1037.9 884.1 L1035.4 884.2 L1032.9 884.4 L1030.4 884.5 L1027.9 884.6 L1025.4 884.7 L1022.9 884.8 L1020.4 884.9 L1017.9 885.0 L1015.5 885.1 L1013.0 885.3 L1010.5 885.4 L1008.0 885.5 L1005.5 885.6 L1003.0 885.7 L1000.5 885.8 L998.0 885.9 L995.5 886.0 L993.0 886.1 L990.5 886.2 L988.0 886.3 L985.5 886.4 L983.0 886.5 L980.5 886.6 L978.0 886.7 L975.5 886.8 L972.9 886.9 L970.4 887.0 L967.9 887.1 L965.4 887.2 L962.9 887.2 L960.4 887.3 L957.9 887.4 L955.4 887.5 L952.9 887.6 L950.4 887.7 L947.9 887.8 L945.4 887.9 L942.9 887.9 L940.4 888.0 L937.9 888.1 L935.4 888.2 L932.8 888.3 L930.3 888.3 L927.8 888.4 L925.3 888.5 L922.8 888.6 L920.3 888.6 L917.8 888.7 L915.3 888.8 L912.8 888.9 L910.2 888.9 L907.7 889.0 L905.2 889.1 L902.7 889.1 L900.2 889.2 L897.7 889.3 L895.1 889.3 L892.6 889.4 L890.1 889.5 L887.6 889.5 L885.1 889.6 L882.6 889.7 L880.0 889.7 L877.5 889.8 L875.0 889.8 L872.5 889.9 L870.0 889.9 L867.4 890.0 L864.9 890.0 L862.4 890.1 L859.9 890.2 L857.3 890.2 L854.8 890.3 L852.3 890.3 L849.8 890.3 L847.2 890.4 L844.7 890.4 L842.2 890.5 L839.7 890.5 L837.1 890.6 L834.6 890.6 L832.1 890.7 L829.5 890.7 L827.0 890.7 L824.5 890.8 L822.0 890.8 L819.4 890.8 L816.9 890.9 L814.4 890.9 L811.8 891.0 L809.3 891.0 L806.8 891.0 L804.2 891.1 L801.7 891.2 L799.2 891.2 L796.7 891.3 L794.2 891.5 L791.6 891.6 L789.1 891.7 L786.6 891.9 L784.1 892.1 L781.7 892.3 L779.2 892.5 L776.7 892.8 L774.2 893.1 L771.8 893.4 L769.3 893.8 L766.9 894.2 L764.5 894.6 L762.1 895.1 L759.7 895.6 L757.3 896.2 L754.9 896.8 L752.5 897.4 L750.1 898.1 L747.8 898.8 L745.5 899.6 L743.1 900.4 L740.8 901.2 L738.5 902.0 L736.2 902.9 L733.9 903.8 L731.6 904.8 L729.3 905.7 L727.0 906.7 L724.8 907.7 L722.5 908.7 L720.2 909.8 L718.0 910.8 L715.7 911.9 L713.4 913.0 L711.2 914.1 L708.9 915.1 L706.7 916.3 L704.4 917.4 L702.2 918.5 L699.9 919.6 L697.7 920.7 L695.4 921.8 L693.2 922.9 L690.9 924.0 L688.7 925.1 L686.4 926.2 L684.1 927.3 L681.9 928.3 L679.6 929.4 L677.3 930.4 L675.0 931.4 L672.7 932.5 L670.5 933.5 L668.2 934.5 L665.9 935.5 L663.6 936.4 L661.3 937.4 L659.0 938.4 L656.7 939.3 L654.4 940.3 L652.0 941.2 L649.7 942.1 L647.4 943.0 L645.1 944.0 L642.8 944.9 L640.4 945.8 L638.1 946.6 L635.8 947.5 L633.4 948.4 L631.1 949.3 L628.8 950.1 L626.4 951.0 L624.1 951.9 L621.8 952.7 L619.4 953.6 L617.1 954.4 L614.7 955.2 L612.4 956.1 L610.0 956.9 L607.7 957.7 L605.3 958.6 L603.0 959.4 L600.6 960.2 L598.3 961.0 L595.9 961.9 L593.5 962.7 L591.2 963.5 L588.8 964.3 L586.5 965.1 L584.1 965.9 L581.8 966.8 L579.4 967.6 L577.0 968.4 L574.7 969.2 L572.3 970.0 L570.0 970.8 L567.6 971.6 L565.3 972.5 L562.9 973.3 L560.6 974.1 L558.2 974.9 L555.8 975.8 L553.5 976.6 L551.1 977.4 L548.8 978.3 L546.4 979.1 L544.1 980.0 L541.7 980.8 L539.4 981.7 L537.0 982.6 L534.7 983.4 L532.4 984.3 L530.0 985.2 L527.7 986.1 L525.4 987.0 L523.0 987.9 L520.7 988.8 L518.4 989.7 L516.0 990.6 L513.7 991.5 L511.4 992.5 L509.1 993.4 L506.7 994.4 L504.4 995.3 L502.1 996.3 L499.8 997.3 L497.5 998.3 L495.2 999.3 L492.9 1000.3 L490.6 1001.3 L490.6 1001.3 L491.7 999.0 L492.7 996.6 L493.8 994.4 L495.0 992.1 L496.1 989.9 L497.3 987.7 L498.5 985.5 L499.8 983.4 L501.1 981.3 L502.4 979.2 L503.7 977.1 L505.2 975.1 L506.6 973.1 L508.1 971.1 L509.6 969.1 L511.1 967.1 L512.7 965.2 L514.2 963.2 L515.8 961.3 L517.4 959.4 L519.1 957.4 L520.7 955.5 L522.4 953.6 L524.0 951.7 L525.7 949.7 L527.4 947.8 L529.1 945.9 L530.8 944.1 L532.6 942.2 L534.3 940.3 L536.1 938.5 L537.8 936.6 L539.6 934.8 L541.3 933.0 L543.1 931.2 L544.9 929.4 L546.7 927.6 L548.4 925.9 L550.2 924.1 L552.0 922.4 L553.8 920.6 L555.6 918.9 L557.4 917.2 L559.2 915.5 L561.0 913.8 L562.9 912.1 L564.7 910.4 L566.5 908.7 L568.3 907.0 L570.1 905.3 L571.9 903.6 L573.8 901.9 L575.6 900.2 L577.4 898.5 L579.2 896.8 L581.1 895.1 L582.9 893.4 L584.7 891.7 L586.5 890.0 L588.3 888.2 L590.1 886.5 L591.9 884.7 L593.7 883.0 L595.5 881.2 L597.3 879.4 L599.1 877.7 L600.9 875.9 L602.7 874.0 L604.5 872.2 L606.3 870.4 L608.0 868.5 L609.8 866.6 L611.6 864.7 L613.3 862.8 L615.1 860.9 L616.9 859.0 L618.6 857.1 L620.4 855.3 L622.2 853.4 L624.0 851.6 L625.9 849.8 L627.7 848.0 L629.6 846.3 L631.5 844.7 L633.5 843.0 L635.5 841.5 L637.5 840.0 L639.5 838.6 L641.6 837.3 L643.8 836.0 L646.0 834.8 L648.2 833.8 L650.5 832.8 L652.8 832.0 L655.2 831.2 L657.5 830.6 L659.9 830.2 L662.4 829.9 L664.8 829.7 L667.3 829.6 L669.8 829.6 L672.2 829.7 L674.7 829.9 L677.3 830.1 L679.8 830.3 L682.3 830.5 L684.8 830.7 L687.3 830.9 L689.9 831.1 L692.4 831.1 L694.9 831.2 L697.4 831.1 L699.9 831.0 L702.5 830.9 L705.0 830.7 L707.5 830.5 L710.0 830.2 L712.5 829.9 L715.0 829.6 L717.5 829.2 L720.0 828.8 L722.5 828.4 L725.0 828.0 L727.5 827.6 L730.0 827.2 L732.5 826.7 L735.0 826.3 L737.5 825.9 L740.0 825.5 L742.5 825.1 L745.0 824.7 L747.4 824.4 L749.9 824.0 L752.4 823.7 L754.9 823.5 L757.4 823.3 L759.8 823.1 L762.3 822.9 L764.8 822.8 L767.3 822.8 L769.7 822.8 L772.2 822.9 L774.7 823.1 L777.1 823.3 L779.6 823.6 L782.1 823.9 L784.5 824.4 L787.0 824.9 L789.5 825.4 L791.9 826.0 L794.4 826.7 L796.8 827.4 L799.3 828.1 L801.8 828.8 L804.2 829.5 L806.7 830.2 L809.1 830.9 L811.6 831.6 L814.0 832.3 L816.5 833.0 L819.0 833.6 L821.4 834.2 L823.9 834.7 L826.3 835.2 L828.8 835.7 L831.3 836.2 L833.7 836.6 L836.2 837.1 L838.6 837.5 L841.1 837.9 L843.6 838.4 L846.0 838.8 L848.5 839.2 L850.9 839.7 L853.4 840.2 L855.9 840.7 L858.3 841.2 L860.8 841.7 L863.2 842.2 L865.7 842.7 L868.2 843.3 L870.6 843.8 L873.1 844.4 L875.5 844.9 L878.0 845.4 L880.5 845.9 L883.0 846.4 L885.4 846.9 L887.9 847.3 L890.4 847.8 L892.9 848.2 L895.4 848.5 L897.9 848.9 L900.4 849.2 L902.9 849.5 L905.4 849.7 L907.9 849.9 L910.4 850.0" fill="none" stroke="#0000ff" stroke-width="13.0" stroke-linecap="round" stroke-linejoin="round"/>
<path d="M1331.4 866.9 L1328.9 867.4 L1326.5 867.8 L1324.0 868.3 L1321.6 868.7 L1319.1 869.2 L1316.6 869.6 L1314.2 870.0 L1311.7 870.4 L1309.3 870.8 L1306.8 871.2 L1304.3 871.5 L1301.8 871.9 L1299.4 872.2 L1296.9 872.6 L1294.4 872.9 L1291.9 873.2 L1289.5 873.5 L1287.0 873.8 L1284.5 874.1 L1282.0 874.4 L1279.5 874.7 L1277.0 874.9 L1274.5 875.2 L1272.1 875.4 L1269.6 875.7 L1267.1 875.9 L1264.6 876.1 L1262.1 876.4 L1259.6 876.6 L1257.1 876.8 L1254.6 877.0 L1252.1 877.1 L1249.6 877.3 L1247.1 877.5 L1244.6 877.7 L1242.1 877.8 L1239.6 878.0 L1237.1 878.1 L1234.6 878.2 L1232.1 878.4 L1229.6 878.5 L1227.1 878.6 L1224.6 878.7 L1222.1 878.8 L1219.6 878.9 L1217.0 879.0 L1214.5 879.1 L1212.0 879.2 L1209.5 879.3 L1207.0 879.4 L1204.5 879.4 L1202.0 879.5 L1199.5 879.6 L1196.9 879.6 L1194.4 879.7 L1191.9 879.7 L1189.4 879.7 L1186.9 879.8 L1184.4 879.8 L1181.8 879.8 L1179.3 879.9 L1176.8 879.9 L1174.3 879.9 L1171.8 879.9 L1169.3 880.0 L1166.7 880.0 L1164.2 880.0 L1161.7 880.0 L1159.2 880.0 L1156.7 880.0 L1154.1 880.0 L1151.6 880.0 L1149.1 880.0 L1146.6 880.0 L1144.1 879.9 L1141.5 879.9 L1139.0 879.9 L1136.5 879.9 L1134.0 879.9 L1131.5 879.9 L1128.9 879.8 L1126.4 879.8 L1123.9 879.8 L1121.4 879.8 L1118.9 879.8 L1116.3 879.7 L1113.8 879.7 L1111.3 879.7 L1108.8 879.7 L1106.3 879.7 L1103.7 879.6 L1101.2 879.6 L1098.7 879.6 L1096.2 879.6 L1093.7 879.6 L1091.2 879.5 L1088.6 879.5 L1086.1 879.5 L1083.6 879.5 L1081.1 879.5 L1078.6 879.4 L1076.1 879.4 L1073.6 879.4 L1071.1 879.4 L1068.5 879.4 L1066.0 879.4 L1063.5 879.4 L1061.0 879.3 L1058.5 879.3 L1056.0 879.3 L1053.5 879.3 L1051.0 879.3 L1048.5 879.3 L1045.9 879.3 L1043.4 879.3 L1040.9 879.3 L1038.4 879.3 L1035.9 879.3 L1033.4 879.3 L1030.9 879.3 L1028.4 879.3 L1025.9 879.3 L1023.4 879.2 L1020.9 879.2 L1018.4 879.2 L1015.8 879.2 L1013.3 879.2 L1010.8 879.3 L1008.3 879.3 L1005.8 879.3 L1003.3 879.3 L1000.8 879.3 L998.3 879.3 L995.8 879.3 L993.3 879.3 L990.8 879.3 L988.3 879.3 L985.8 879.3 L983.3 879.3 L980.8 879.3 L978.3 879.3 L975.8 879.4 L973.3 879.4 L970.8 879.4 L968.3 879.4 L965.8 879.4 L963.3 879.4 L960.8 879.4 L958.3 879.5 L955.8 879.5 L953.3 879.5 L950.7 879.5 L948.2 879.5 L945.7 879.6 L943.2 879.6 L940.7 879.6 L938.2 879.6 L935.7 879.7 L933.2 879.7 L930.7 879.7 L928.2 879.7 L925.7 879.8 L923.2 879.8 L920.7 879.8 L918.2 879.8 L915.7 879.9 L913.2 879.9 L910.7 879.9 L908.2 880.0 L905.7 880.0 L903.2 880.0 L900.7 880.1 L898.2 880.1 L895.7 880.2 L893.2 880.2 L890.7 880.2 L888.2 880.3 L885.7 880.3 L883.2 880.4 L880.7 880.4 L878.2 880.5 L875.7 880.5 L873.2 880.5 L870.7 880.6 L868.2 880.6 L865.7 880.7 L863.2 880.7 L860.7 880.8 L858.2 880.8 L855.7 880.9 L853.2 880.9 L850.7 881.0 L848.2 881.1 L845.7 881.1 L843.2 881.2 L840.7 881.2 L838.2 881.3 L835.7 881.4 L833.2 881.4 L830.7 881.5 L828.2 881.5 L825.7 881.6 L823.1 881.7 L820.6 881.7 L818.1 881.8 L815.6 881.9 L813.1 881.9 L810.6 882.0 L808.1 882.1 L805.6 882.2 L803.1 882.2 L800.6 882.3 L798.1 882.4 L795.6 882.5 L793.1 882.5 L790.6 882.6 L788.1 882.7 L785.6 882.8 L783.1 882.8 L780.5 882.9 L778.0 883.0 L775.5 883.1 L773.0 883.2 L770.5 883.3 L768.0 883.4 L765.5 883.4 L763.0 883.5 L760.5 883.6 L758.0 883.7 L755.5 883.8 L752.9 883.9 L750.4 884.0 L747.9 884.1 L745.4 884.2 L742.9 884.3 L740.4 884.4 L737.9 884.5 L735.4 884.6 L732.8 884.7 L730.3 884.8 L727.8 884.9 L725.3 885.0 L722.8 885.1 L720.3 885.2 L717.8 885.3 L715.2 885.4 L712.7 885.6 L710.2 885.7 L707.7 885.8 L705.2 885.9 L702.6 886.0 L700.1 886.1 L697.6 886.3 L695.1 886.4 L692.6 886.5 L690.0 886.6 L687.5 886.7 L685.0 886.9 L682.5 887.0 L680.0 887.1 L677.4 887.2 L674.9 887.4 L672.4 887.5 L669.9 887.6 L667.3 887.8 L664.8 887.9 L662.3 888.1 L659.8 888.2 L657.2 888.3 L654.7 888.5 L652.2 888.7 L649.7 888.8 L647.2 889.0 L644.6 889.1 L642.1 889.3 L639.6 889.5 L637.1 889.7 L634.6 889.9 L632.1 890.1 L629.5 890.3 L627.0 890.5 L624.5 890.7 L622.0 890.9 L619.5 891.1 L617.0 891.4 L614.5 891.6 L612.0 891.9 L609.5 892.1 L607.0 892.4 L604.5 892.7 L602.0 893.0 L599.5 893.3 L597.0 893.6 L594.6 893.9 L592.1 894.2 L589.6 894.6 L587.1 894.9 L584.7 895.3 L582.2 895.7 L579.7 896.1 L577.3 896.5 L574.8 896.9 L572.4 897.3 L569.9 897.7 L567.5 898.2 L565.0 898.6 L562.6 899.1 L560.1 899.6 L557.7 900.1 L555.3 900.6 L552.9 901.2 L550.4 901.7 L548.0 902.3 L545.6 902.9 L543.2 903.4 L540.8 904.1 L538.4 904.7 L536.1 905.3 L533.7 906.0 L531.3 906.7 L529.0 907.5 L526.6 908.2 L524.3 909.0 L522.0 909.8 L519.7 910.7 L517.4 911.6 L515.1 912.6 L512.9 913.6 L510.6 914.6 L508.4 915.7 L506.2 916.8 L504.0 918.0 L501.9 919.3 L499.8 920.6 L497.7 921.9 L495.6 923.3 L493.5 924.8 L491.5 926.4 L489.5 928.0 L489.5 928.0 L490.3 925.1 L491.1 922.4 L492.1 919.7 L493.1 917.2 L494.2 914.7 L495.4 912.4 L496.6 910.1 L497.9 908.0 L499.3 905.9 L500.8 903.9 L502.3 902.1 L503.9 900.3 L505.6 898.6 L507.3 896.9 L509.1 895.4 L510.9 893.9 L512.8 892.5 L514.7 891.2 L516.7 890.0 L518.7 888.8 L520.7 887.8 L522.8 886.7 L525.0 885.8 L527.2 884.9 L529.4 884.1 L531.6 883.3 L533.9 882.6 L536.2 881.9 L538.5 881.3 L540.8 880.8 L543.2 880.3 L545.6 879.8 L548.0 879.4 L550.5 879.1 L552.9 878.7 L555.4 878.5 L557.9 878.2 L560.4 878.0 L562.9 877.8 L565.5 877.7 L568.0 877.5 L570.6 877.4 L573.1 877.4 L575.7 877.3 L578.3 877.3 L580.9 877.2 L583.5 877.2 L586.0 877.2 L588.6 877.3 L591.2 877.3 L593.8 877.3 L596.4 877.3 L599.0 877.4 L601.6 877.4 L604.2 877.4 L606.8 877.4 L609.3 877.5 L611.9 877.5 L614.5 877.5 L617.0 877.5 L619.6 877.5 L622.1 877.5 L624.7 877.5 L627.2 877.5 L629.8 877.5 L632.3 877.5 L634.8 877.5 L637.3 877.5 L639.9 877.5 L642.4 877.5 L644.9 877.5 L647.4 877.5 L649.9 877.4 L652.5 877.4 L655.0 877.4 L657.5 877.4 L660.0 877.4 L662.5 877.4 L665.0 877.3 L667.5 877.3 L670.0 877.3 L672.5 877.3 L675.0 877.3 L677.5 877.2 L680.0 877.2 L682.5 877.2 L684.9 877.2 L687.4 877.2 L689.9 877.2 L692.4 877.1 L694.9 877.1 L697.4 877.1 L699.9 877.1 L702.4 877.1 L704.9 877.1 L707.4 877.1 L709.9 877.1 L712.4 877.1 L714.9 877.1 L717.4 877.1 L719.8 877.0 L722.3 877.0 L724.8 877.0 L727.3 877.0 L729.8 877.0 L732.3 877.0 L734.8 877.1 L737.3 877.1 L739.8 877.1 L742.3 877.1 L744.8 877.1 L747.3 877.1 L749.8 877.1 L752.3 877.1 L754.8 877.1 L757.3 877.1 L759.8 877.1 L762.3 877.2 L764.8 877.2 L767.3 877.2 L769.8 877.2 L772.3 877.2 L774.8 877.2 L777.3 877.3 L779.8 877.3 L782.3 877.3 L784.8 877.3 L787.3 877.3 L789.8 877.4 L792.3 877.4 L794.8 877.4 L797.3 877.4 L799.8 877.5 L802.3 877.5 L804.8 877.5 L807.4 877.5 L809.9 877.6 L812.4 877.6 L814.9 877.6 L817.4 877.6 L819.9 877.7 L822.4 877.7 L824.9 877.7 L827.4 877.8 L829.9 877.8 L832.4 877.8 L834.9 877.8 L837.4 877.9 L839.9 877.9 L842.4 877.9 L844.9 878.0 L847.5 878.0 L850.0 878.0 L852.5 878.1 L855.0 878.1 L857.5 878.1 L860.0 878.2 L862.5 878.2 L865.0 878.2 L867.5 878.3 L870.0 878.3 L872.5 878.3 L875.1 878.4 L877.6 878.4 L880.1 878.4 L882.6 878.5 L885.1 878.5 L887.6 878.5 L890.1 878.6 L892.6 878.6 L895.1 878.6 L897.7 878.7 L900.2 878.7 L902.7 878.7 L905.2 878.8 L907.7 878.8 L910.2 878.8 L912.7 878.9 L915.2 878.9 L917.7 878.9 L920.3 878.9 L922.8 879.0 L925.3 879.0 L927.8 879.0 L930.3 879.1 L932.8 879.1 L935.3 879.1 L937.8 879.2 L940.4 879.2 L942.9 879.2 L945.4 879.2 L947.9 879.3 L950.4 879.3 L952.9 879.3 L955.4 879.3 L958.0 879.4 L960.5 879.4 L963.0 879.4 L965.5 879.4 L968.0 879.5 L970.5 879.5 L973.0 879.5 L975.5 879.5 L978.1 879.5 L980.6 879.6 L983.1 879.6 L985.6 879.6 L988.1 879.6 L990.6 879.6 L993.1 879.6 L995.7 879.7 L998.2 879.7 L1000.7 879.7 L1003.2 879.7 L1005.7 879.7 L1008.2 879.7 L1010.7 879.7 L1013.3 879.7 L1015.8 879.7 L1018.3 879.7 L1020.8 879.8 L1023.3 879.8 L1025.8 879.8 L1028.3 879.8 L1030.9 879.8 L1033.4 879.8 L1035.9 879.8 L1038.4 879.8 L1040.9 879.8 L1043.4 879.8 L1045.9 879.7 L1048.4 879.7 L1051.0 879.7 L1053.5 879.7 L1056.0 879.7 L1058.5 879.7 L1061.0 879.7 L1063.5 879.7 L1066.0 879.7 L1068.6 879.6 L1071.1 879.6 L1073.6 879.6 L1076.1 879.6 L1078.6 879.6 L1081.1 879.5 L1083.6 879.5 L1086.1 879.5 L1088.7 879.5 L1091.2 879.4 L1093.7 879.4 L1096.2 879.4 L1098.7 879.3 L1101.2 879.3 L1103.7 879.3 L1106.2 879.2 L1108.7 879.2 L1111.3 879.1 L1113.8 879.1 L1116.3 879.0 L1118.8 879.0 L1121.3 878.9 L1123.8 878.9 L1126.3 878.8 L1128.8 878.8 L1131.3 878.7 L1133.9 878.7 L1136.4 878.6 L1138.9 878.5 L1141.4 878.5 L1143.9 878.4 L1146.4 878.4 L1148.9 878.3 L1151.4 878.2 L1153.9 878.1 L1156.4 878.1 L1158.9 878.0 L1161.5 877.9 L1164.0 877.8 L1166.5 877.7 L1169.0 877.7 L1171.5 877.6 L1174.0 877.5 L1176.5 877.4 L1179.0 877.3 L1181.5 877.2 L1184.0 877.1 L1186.5 877.0 L1189.0 876.9 L1191.5 876.8 L1194.0 876.7 L1196.5 876.6 L1199.0 876.5 L1201.6 876.4 L1204.1 876.2 L1206.6 876.1 L1209.1 876.0 L1211.6 875.9 L1214.1 875.8 L1216.6 875.6 L1219.1 875.5 L1221.6 875.4 L1224.1 875.2 L1226.6 875.1 L1229.1 875.0 L1231.6 874.8 L1234.1 874.7 L1236.6 874.5 L1239.1 874.4 L1241.6 874.2 L1244.1 874.1 L1246.6 873.9 L1249.1 873.8 L1251.6 873.6 L1254.1 873.4 L1256.6 873.3 L1259.1 873.1 L1261.6 872.9 L1264.1 872.7 L1266.6 872.6 L1269.1 872.4 L1271.6 872.2 L1274.1 872.0 L1276.6 871.8 L1279.1 871.6 L1281.6 871.4 L1284.1 871.2 L1286.6 871.0 L1289.0 870.8 L1291.5 870.6 L1294.0 870.4 L1296.5 870.2 L1299.0 870.0 L1301.5 869.8 L1304.0 869.6 L1306.5 869.3 L1309.0 869.1 L1311.5 868.9 L1314.0 868.6 L1316.5 868.4 L1319.0 868.2 L1321.4 867.9 L1323.9 867.7 L1326.4 867.4 L1328.9 867.2 L1331.4 866.9" fill="none" stroke="#ff00ff" stroke-width="10.0" stroke-linecap="round" stroke-linejoin="round"/>
<g stroke="#000" stroke-width="5" fill="none" stroke-linecap="butt">
<rect x="321.5" y="44.5" width="1600.5" height="1300.0"/>
<path d="M307.5 1344.3H321.5 M295.5 1251.5H321.5 M307.5 1158.7H321.5 M295.5 1065.8H321.5 M307.5 973.0H321.5 M295.5 880.2H321.5 M307.5 787.3H321.5 M295.5 694.5H321.5 M307.5 601.7H321.5 M295.5 508.8H321.5 M307.5 416.0H321.5 M295.5 323.2H321.5 M307.5 230.3H321.5 M295.5 137.5H321.5 M307.5 44.7H321.5"/>
<path d="M321.5 1344.5V1358.5 M490.5 1344.5V1370.5 M658.9 1344.5V1358.5 M827.2 1344.5V1370.5 M995.6 1344.5V1358.5 M1164.0 1344.5V1370.5 M1332.4 1344.5V1358.5 M1500.8 1344.5V1370.5 M1669.1 1344.5V1358.5 M1837.5 1344.5V1370.5"/>
</g>
<line x1="394.5" y1="134.5" x2="463.5" y2="134.5" stroke="#000000" stroke-width="13.0" stroke-linecap="round"/>
<line x1="394.5" y1="201.4" x2="463.5" y2="201.4" stroke="#ff0000" stroke-width="13.0" stroke-linecap="round"/>
<line x1="394.5" y1="267.0" x2="463.5" y2="267.0" stroke="#0000ff" stroke-width="13.0" stroke-linecap="round"/>
<line x1="394.5" y1="334.0" x2="463.5" y2="334.0" stroke="#ff00ff" stroke-width="10.5" stroke-linecap="round"/>
<g font-family="Liberation Sans, Arial, sans-serif" fill="#000">
<text transform="translate(182.21 158.0) scale(0.970 1)" font-size="70.0">2.0</text>
<text transform="translate(182.21 343.7) scale(0.970 1)" font-size="70.0"><tspan dx="3.5">1</tspan><tspan dx="-3.5">.</tspan>5</text>
<text transform="translate(182.21 529.3) scale(0.970 1)" font-size="70.0"><tspan dx="3.5">1</tspan><tspan dx="-3.5">.</tspan>0</text>
<text transform="translate(182.21 715.0) scale(0.970 1)" font-size="70.0">0.5</text>
<text transform="translate(182.21 900.7) scale(0.970 1)" font-size="70.0">0.0</text>
<text transform="translate(159.60 1086.3) scale(0.970 1)" font-size="70.0">-0.5</text>
<text transform="translate(159.60 1272.0) scale(0.970 1)" font-size="70.0">-<tspan dx="3.5">1</tspan><tspan dx="-3.5">.</tspan>0</text>
<text transform="translate(430.50 1439.8) scale(0.970 1)" font-size="70.0">-0.4</text>
<text transform="translate(778.55 1439.8) scale(0.970 1)" font-size="70.0">0.0</text>
<text transform="translate(1115.30 1439.8) scale(0.970 1)" font-size="70.0">0.4</text>
<text transform="translate(1452.05 1439.8) scale(0.970 1)" font-size="70.0">0.8</text>
<text transform="translate(1788.80 1439.8) scale(0.970 1)" font-size="70.0"><tspan dx="3.5">1</tspan><tspan dx="-3.5">.</tspan>2</text>
<text transform="translate(937.3 1556.0) scale(0.969 1)" font-size="74.0">Potential, V</text>
<text transform="translate(99.0 912.3) rotate(-90) scale(0.940 1)" font-size="74.0">Current, mA</text>
<text x="479.0" y="145.0" font-size="55.5">1</text>
<text x="476.0" y="212.0" font-size="55.5">2</text>
<text x="476.0" y="277.0" font-size="55.5">3</text>
<text x="476.0" y="344.2" font-size="55.5">4</text>
</g>
</svg>
</body></html>
